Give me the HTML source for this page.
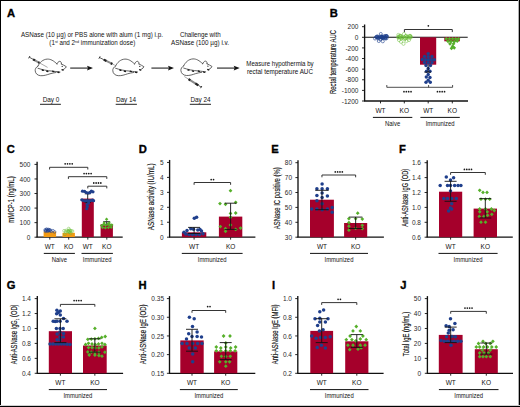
<!DOCTYPE html>
<html><head><meta charset="utf-8"><style>
html,body{margin:0;padding:0;background:#fff;}
#fig{position:relative;width:520px;height:407px;overflow:hidden;background:#fff;}
svg{position:absolute;left:0;top:0;}
text{font-family:"Liberation Sans", sans-serif;}
</style></head><body><div id="fig">
<svg width="520" height="407" viewBox="0 0 520 407">
<rect x="0" y="0" width="520" height="407" fill="#fff"/>
<text x="7.00" y="16.90" font-size="11.2" text-anchor="start" font-weight="bold" fill="#000" stroke="#000" stroke-width="0.35">A</text>
<text x="91.90" y="36.80" font-size="6.35" text-anchor="middle" font-weight="normal" fill="#111" textLength="142" lengthAdjust="spacingAndGlyphs" >ASNase (10 µg) or PBS alone with alum (1 mg) i.p.</text>
<text x="92.3" y="45.0" font-size="6.35" text-anchor="middle" fill="#111" textLength="86" lengthAdjust="spacingAndGlyphs">(1<tspan font-size="3.6" dy="-2.2">st</tspan><tspan dy="2.2"> and 2</tspan><tspan font-size="3.6" dy="-2.2">nd</tspan><tspan dy="2.2"> immunization dose)</tspan></text>
<text x="200.30" y="37.10" font-size="6.35" text-anchor="middle" font-weight="normal" fill="#111" textLength="40.8" lengthAdjust="spacingAndGlyphs" >Challenge with</text>
<text x="200.00" y="45.30" font-size="6.35" text-anchor="middle" font-weight="normal" fill="#111" textLength="58" lengthAdjust="spacingAndGlyphs" >ASNase (100 µg) i.v.</text>
<text x="246.30" y="66.40" font-size="6.35" text-anchor="start" font-weight="normal" fill="#111" textLength="67.4" lengthAdjust="spacingAndGlyphs" >Measure hypothermia by</text>
<text x="247.00" y="74.10" font-size="6.35" text-anchor="start" font-weight="normal" fill="#111" textLength="66" lengthAdjust="spacingAndGlyphs" >rectal temperature AUC</text>
<line x1="70.20" y1="68.10" x2="89.00" y2="68.10" stroke="#4a4a4a" stroke-width="1.35"/>
<path d="M87.00,65.80 L93.00,68.1 L87.00,70.40 L88.00,68.1Z" fill="#111"/>
<line x1="151.40" y1="68.10" x2="170.00" y2="68.10" stroke="#4a4a4a" stroke-width="1.35"/>
<path d="M168.00,65.80 L174.00,68.1 L168.00,70.40 L169.00,68.1Z" fill="#111"/>
<line x1="217.00" y1="68.10" x2="235.70" y2="68.10" stroke="#4a4a4a" stroke-width="1.35"/>
<path d="M233.70,65.80 L239.70,68.1 L233.70,70.40 L234.70,68.1Z" fill="#111"/>
<text x="51.00" y="101.80" font-size="6.4" text-anchor="middle" font-weight="normal" fill="#111" >Day 0</text>
<text x="126.00" y="101.80" font-size="6.4" text-anchor="middle" font-weight="normal" fill="#111" >Day 14</text>
<text x="200.50" y="101.80" font-size="6.4" text-anchor="middle" font-weight="normal" fill="#111" >Day 24</text>
<line x1="40.00" y1="104.30" x2="60.90" y2="104.30" stroke="#222" stroke-width="1.0"/>
<line x1="115.70" y1="104.30" x2="136.90" y2="104.30" stroke="#222" stroke-width="1.0"/>
<line x1="189.80" y1="104.30" x2="211.00" y2="104.30" stroke="#222" stroke-width="1.0"/>
<g transform="translate(0.00,0.00)"><g fill="none" stroke="#333" stroke-width="0.75" stroke-linecap="round" stroke-linejoin="round"><path d="M38.0,66.0 C39.5,62.5 43,59.3 47.3,59.1 C50.5,59 53.5,60.5 57,64"/><path d="M57,64 C57.5,62.5 58.5,61.4 59.8,61.3 C60.8,61.3 61.5,62.3 61.4,64"/><path d="M61.4,64 C63,64.8 65,65.8 66.3,66.7 C66,67.8 65,68.5 64.2,68.9 L62.9,69.9"/><path d="M38,68.3 C42,69.6 47,70.8 53,71.2 C56,71.5 58.5,71.8 60,72"/><path d="M38.0,66.0 C36,67.2 35,69 35.2,70.8 C35.4,73.5 37.5,75.5 40.7,75.7 C44,75.9 47,74.8 50,73.8 C52,73.2 54,72.8 56,72.5"/></g><ellipse cx="42.8" cy="70.2" rx="1.3" ry="0.75" fill="#1a1a1a" transform="rotate(15 42.8 70.2)"/><ellipse cx="47.3" cy="71.3" rx="1.3" ry="0.75" fill="#1a1a1a" transform="rotate(15 47.3 71.3)"/><ellipse cx="53.2" cy="71.4" rx="1.3" ry="0.75" fill="#1a1a1a" transform="rotate(15 53.2 71.4)"/><ellipse cx="58.4" cy="72.3" rx="1.3" ry="0.75" fill="#1a1a1a" transform="rotate(15 58.4 72.3)"/><ellipse cx="62.6" cy="69.9" rx="1.3" ry="0.75" fill="#1a1a1a" transform="rotate(15 62.6 69.9)"/><circle cx="62.2" cy="66.4" r="0.6" fill="#222"/></g>
<line x1="28.67" y1="58.34" x2="29.93" y2="56.06" stroke="#333" stroke-width="1.0"/>
<line x1="29.30" y1="57.20" x2="33.14" y2="59.34" stroke="#444" stroke-width="0.9"/>
<line x1="33.14" y1="59.34" x2="39.37" y2="62.81" stroke="#8a8a8a" stroke-width="2.0"/>
<line x1="33.14" y1="59.34" x2="35.01" y2="60.38" stroke="#222" stroke-width="2.1"/>
<line x1="38.25" y1="62.19" x2="39.37" y2="62.81" stroke="#222" stroke-width="2.1"/>
<line x1="39.37" y1="62.81" x2="47.60" y2="67.40" stroke="#555" stroke-width="0.5"/>
<g transform="translate(77.60,0.00)"><g fill="none" stroke="#333" stroke-width="0.75" stroke-linecap="round" stroke-linejoin="round"><path d="M38.0,66.0 C39.5,62.5 43,59.3 47.3,59.1 C50.5,59 53.5,60.5 57,64"/><path d="M57,64 C57.5,62.5 58.5,61.4 59.8,61.3 C60.8,61.3 61.5,62.3 61.4,64"/><path d="M61.4,64 C63,64.8 65,65.8 66.3,66.7 C66,67.8 65,68.5 64.2,68.9 L62.9,69.9"/><path d="M38,68.3 C42,69.6 47,70.8 53,71.2 C56,71.5 58.5,71.8 60,72"/><path d="M38.0,66.0 C36,67.2 35,69 35.2,70.8 C35.4,73.5 37.5,75.5 40.7,75.7 C44,75.9 47,74.8 50,73.8 C52,73.2 54,72.8 56,72.5"/></g><ellipse cx="42.8" cy="70.2" rx="1.3" ry="0.75" fill="#1a1a1a" transform="rotate(15 42.8 70.2)"/><ellipse cx="47.3" cy="71.3" rx="1.3" ry="0.75" fill="#1a1a1a" transform="rotate(15 47.3 71.3)"/><ellipse cx="53.2" cy="71.4" rx="1.3" ry="0.75" fill="#1a1a1a" transform="rotate(15 53.2 71.4)"/><ellipse cx="58.4" cy="72.3" rx="1.3" ry="0.75" fill="#1a1a1a" transform="rotate(15 58.4 72.3)"/><ellipse cx="62.6" cy="69.9" rx="1.3" ry="0.75" fill="#1a1a1a" transform="rotate(15 62.6 69.9)"/><circle cx="62.2" cy="66.4" r="0.6" fill="#222"/></g>
<line x1="98.92" y1="58.66" x2="100.08" y2="56.34" stroke="#333" stroke-width="1.0"/>
<line x1="99.50" y1="57.50" x2="103.78" y2="59.66" stroke="#444" stroke-width="0.9"/>
<line x1="103.78" y1="59.66" x2="112.35" y2="63.97" stroke="#8a8a8a" stroke-width="2.0"/>
<line x1="103.78" y1="59.66" x2="106.35" y2="60.95" stroke="#222" stroke-width="2.1"/>
<line x1="110.81" y1="63.19" x2="112.35" y2="63.97" stroke="#222" stroke-width="2.1"/>
<line x1="112.35" y1="63.97" x2="114.80" y2="65.20" stroke="#555" stroke-width="0.5"/>
<g transform="translate(145.70,-0.20)"><g fill="none" stroke="#333" stroke-width="0.75" stroke-linecap="round" stroke-linejoin="round"><path d="M38.0,66.0 C39.5,62.5 43,59.3 47.3,59.1 C50.5,59 53.5,60.5 57,64"/><path d="M57,64 C57.5,62.5 58.5,61.4 59.8,61.3 C60.8,61.3 61.5,62.3 61.4,64"/><path d="M61.4,64 C63,64.8 65,65.8 66.3,66.7 C66,67.8 65,68.5 64.2,68.9 L62.9,69.9"/><path d="M38,68.3 C42,69.6 47,70.8 53,71.2 C56,71.5 58.5,71.8 60,72"/><path d="M38.0,66.0 C36,67.2 35,69 35.2,70.8 C35.4,73.5 37.5,75.5 40.7,75.7 C44,75.9 47,74.8 50,73.8 C52,73.2 54,72.8 56,72.5"/></g><ellipse cx="42.8" cy="70.2" rx="1.3" ry="0.75" fill="#1a1a1a" transform="rotate(15 42.8 70.2)"/><ellipse cx="47.3" cy="71.3" rx="1.3" ry="0.75" fill="#1a1a1a" transform="rotate(15 47.3 71.3)"/><ellipse cx="53.2" cy="71.4" rx="1.3" ry="0.75" fill="#1a1a1a" transform="rotate(15 53.2 71.4)"/><ellipse cx="58.4" cy="72.3" rx="1.3" ry="0.75" fill="#1a1a1a" transform="rotate(15 58.4 72.3)"/><ellipse cx="62.6" cy="69.9" rx="1.3" ry="0.75" fill="#1a1a1a" transform="rotate(15 62.6 69.9)"/><circle cx="62.2" cy="66.4" r="0.6" fill="#222"/></g>
<line x1="201.89" y1="86.00" x2="200.51" y2="88.20" stroke="#333" stroke-width="1.0"/>
<line x1="201.20" y1="87.10" x2="198.33" y2="85.30" stroke="#444" stroke-width="0.9"/>
<line x1="198.33" y1="85.30" x2="188.53" y2="79.15" stroke="#8a8a8a" stroke-width="2.0"/>
<line x1="198.33" y1="85.30" x2="195.39" y2="83.45" stroke="#222" stroke-width="2.1"/>
<line x1="190.29" y1="80.26" x2="188.53" y2="79.15" stroke="#222" stroke-width="2.1"/>
<line x1="188.53" y1="79.15" x2="184.30" y2="76.50" stroke="#555" stroke-width="0.5"/>
<text x="329.70" y="16.90" font-size="11.2" text-anchor="start" font-weight="bold" fill="#000" stroke="#000" stroke-width="0.35">B</text>
<text transform="translate(336.34,62.00) rotate(-90)" font-size="8.2" text-anchor="middle" fill="#111" stroke="#111" stroke-width="0.15" textLength="64" lengthAdjust="spacingAndGlyphs">Rectal temperature AUC</text>
<line x1="364.60" y1="24.50" x2="364.60" y2="101.00" stroke="#111" stroke-width="1.35"/>
<line x1="362.00" y1="26.68" x2="364.60" y2="26.68" stroke="#111" stroke-width="0.9"/>
<text x="358.40" y="29.31" font-size="6.5" text-anchor="end" font-weight="normal" fill="#2a2a2a" >200</text>
<line x1="362.00" y1="37.30" x2="364.60" y2="37.30" stroke="#111" stroke-width="0.9"/>
<text x="358.40" y="39.93" font-size="6.5" text-anchor="end" font-weight="normal" fill="#2a2a2a" >0</text>
<line x1="362.00" y1="47.92" x2="364.60" y2="47.92" stroke="#111" stroke-width="0.9"/>
<text x="358.40" y="50.54" font-size="6.5" text-anchor="end" font-weight="normal" fill="#2a2a2a" >-200</text>
<line x1="362.00" y1="58.53" x2="364.60" y2="58.53" stroke="#111" stroke-width="0.9"/>
<text x="358.40" y="61.16" font-size="6.5" text-anchor="end" font-weight="normal" fill="#2a2a2a" >-400</text>
<line x1="362.00" y1="69.15" x2="364.60" y2="69.15" stroke="#111" stroke-width="0.9"/>
<text x="358.40" y="71.78" font-size="6.5" text-anchor="end" font-weight="normal" fill="#2a2a2a" >-600</text>
<line x1="362.00" y1="79.77" x2="364.60" y2="79.77" stroke="#111" stroke-width="0.9"/>
<text x="358.40" y="82.39" font-size="6.5" text-anchor="end" font-weight="normal" fill="#2a2a2a" >-800</text>
<line x1="362.00" y1="90.39" x2="364.60" y2="90.39" stroke="#111" stroke-width="0.9"/>
<text x="358.40" y="93.01" font-size="6.5" text-anchor="end" font-weight="normal" fill="#2a2a2a" >-1000</text>
<line x1="362.00" y1="101.00" x2="364.60" y2="101.00" stroke="#111" stroke-width="0.9"/>
<text x="358.40" y="103.63" font-size="6.5" text-anchor="end" font-weight="normal" fill="#2a2a2a" >-1200</text>
<line x1="364.00" y1="101.00" x2="468.00" y2="101.00" stroke="#111" stroke-width="1.3"/>
<line x1="380.50" y1="101.00" x2="380.50" y2="103.40" stroke="#111" stroke-width="0.9"/>
<line x1="404.30" y1="101.00" x2="404.30" y2="103.40" stroke="#111" stroke-width="0.9"/>
<line x1="428.20" y1="101.00" x2="428.20" y2="103.40" stroke="#111" stroke-width="0.9"/>
<line x1="452.30" y1="101.00" x2="452.30" y2="103.40" stroke="#111" stroke-width="0.9"/>
<line x1="364.60" y1="37.30" x2="467.70" y2="37.30" stroke="#111" stroke-width="1.1"/>
<rect x="420.00" y="37.30" width="16.20" height="27.40" fill="#a5002b"/>
<rect x="444.30" y="37.30" width="15.50" height="4.00" fill="#a5002b"/>
<circle cx="377.39" cy="36.35" r="1.55" fill="none" stroke="#1f3f8c" stroke-width="0.6"/>
<circle cx="382.15" cy="36.82" r="1.55" fill="none" stroke="#1f3f8c" stroke-width="0.6"/>
<circle cx="382.43" cy="37.10" r="1.55" fill="none" stroke="#1f3f8c" stroke-width="0.6"/>
<circle cx="385.19" cy="37.05" r="1.55" fill="none" stroke="#1f3f8c" stroke-width="0.6"/>
<circle cx="377.67" cy="37.23" r="1.55" fill="none" stroke="#1f3f8c" stroke-width="0.6"/>
<circle cx="380.41" cy="39.30" r="1.55" fill="none" stroke="#1f3f8c" stroke-width="0.6"/>
<circle cx="385.17" cy="36.01" r="1.55" fill="none" stroke="#1f3f8c" stroke-width="0.6"/>
<circle cx="376.26" cy="37.15" r="1.55" fill="none" stroke="#1f3f8c" stroke-width="0.6"/>
<circle cx="382.55" cy="37.58" r="1.55" fill="none" stroke="#1f3f8c" stroke-width="0.6"/>
<circle cx="383.94" cy="36.37" r="1.55" fill="none" stroke="#1f3f8c" stroke-width="0.6"/>
<circle cx="383.03" cy="38.09" r="1.55" fill="none" stroke="#1f3f8c" stroke-width="0.6"/>
<circle cx="381.98" cy="37.46" r="1.55" fill="none" stroke="#1f3f8c" stroke-width="0.6"/>
<circle cx="378.22" cy="38.38" r="1.55" fill="none" stroke="#1f3f8c" stroke-width="0.6"/>
<circle cx="380.45" cy="37.27" r="1.55" fill="none" stroke="#1f3f8c" stroke-width="0.6"/>
<circle cx="383.64" cy="37.80" r="1.55" fill="none" stroke="#1f3f8c" stroke-width="0.6"/>
<circle cx="386.27" cy="36.24" r="1.55" fill="none" stroke="#1f3f8c" stroke-width="0.6"/>
<circle cx="379.43" cy="37.24" r="1.55" fill="none" stroke="#1f3f8c" stroke-width="0.6"/>
<circle cx="386.46" cy="36.28" r="1.55" fill="none" stroke="#1f3f8c" stroke-width="0.6"/>
<circle cx="385.73" cy="37.31" r="1.55" fill="none" stroke="#1f3f8c" stroke-width="0.6"/>
<circle cx="377.12" cy="37.22" r="1.55" fill="none" stroke="#1f3f8c" stroke-width="0.6"/>
<circle cx="386.85" cy="36.10" r="1.55" fill="none" stroke="#1f3f8c" stroke-width="0.6"/>
<circle cx="378.21" cy="37.38" r="1.55" fill="none" stroke="#1f3f8c" stroke-width="0.6"/>
<circle cx="380.89" cy="36.51" r="1.55" fill="none" stroke="#1f3f8c" stroke-width="0.6"/>
<circle cx="381.91" cy="37.43" r="1.55" fill="none" stroke="#1f3f8c" stroke-width="0.6"/>
<circle cx="381.90" cy="37.87" r="1.55" fill="none" stroke="#1f3f8c" stroke-width="0.6"/>
<circle cx="386.38" cy="36.40" r="1.55" fill="none" stroke="#1f3f8c" stroke-width="0.6"/>
<circle cx="385.43" cy="38.04" r="1.55" fill="none" stroke="#1f3f8c" stroke-width="0.6"/>
<circle cx="376.42" cy="36.94" r="1.55" fill="none" stroke="#1f3f8c" stroke-width="0.6"/>
<circle cx="385.49" cy="38.48" r="1.55" fill="none" stroke="#1f3f8c" stroke-width="0.6"/>
<circle cx="381.70" cy="36.67" r="1.55" fill="none" stroke="#1f3f8c" stroke-width="0.6"/>
<circle cx="378.80" cy="41.00" r="1.55" fill="none" stroke="#1f3f8c" stroke-width="0.6"/>
<circle cx="382.80" cy="41.30" r="1.55" fill="none" stroke="#1f3f8c" stroke-width="0.6"/>
<circle cx="380.80" cy="34.00" r="1.55" fill="none" stroke="#1f3f8c" stroke-width="0.6"/>
<circle cx="375.00" cy="38.50" r="1.55" fill="none" stroke="#1f3f8c" stroke-width="0.6"/>
<circle cx="386.50" cy="38.30" r="1.55" fill="none" stroke="#1f3f8c" stroke-width="0.6"/>
<circle cx="407.08" cy="37.21" r="1.6" fill="none" stroke="#6cbf3a" stroke-width="0.5"/>
<circle cx="405.26" cy="38.45" r="1.6" fill="none" stroke="#6cbf3a" stroke-width="0.5"/>
<circle cx="401.50" cy="38.43" r="1.6" fill="none" stroke="#6cbf3a" stroke-width="0.5"/>
<circle cx="410.67" cy="37.49" r="1.6" fill="none" stroke="#6cbf3a" stroke-width="0.5"/>
<circle cx="398.95" cy="37.09" r="1.6" fill="none" stroke="#6cbf3a" stroke-width="0.5"/>
<circle cx="399.76" cy="35.92" r="1.6" fill="none" stroke="#6cbf3a" stroke-width="0.5"/>
<circle cx="401.62" cy="37.02" r="1.6" fill="none" stroke="#6cbf3a" stroke-width="0.5"/>
<circle cx="398.37" cy="34.99" r="1.6" fill="none" stroke="#6cbf3a" stroke-width="0.5"/>
<circle cx="405.79" cy="38.18" r="1.6" fill="none" stroke="#6cbf3a" stroke-width="0.5"/>
<circle cx="402.10" cy="37.20" r="1.6" fill="none" stroke="#6cbf3a" stroke-width="0.5"/>
<circle cx="409.25" cy="37.86" r="1.6" fill="none" stroke="#6cbf3a" stroke-width="0.5"/>
<circle cx="410.78" cy="36.67" r="1.6" fill="none" stroke="#6cbf3a" stroke-width="0.5"/>
<circle cx="401.83" cy="37.88" r="1.6" fill="none" stroke="#6cbf3a" stroke-width="0.5"/>
<circle cx="398.21" cy="37.37" r="1.6" fill="none" stroke="#6cbf3a" stroke-width="0.5"/>
<circle cx="400.37" cy="35.77" r="1.6" fill="none" stroke="#6cbf3a" stroke-width="0.5"/>
<circle cx="399.83" cy="37.48" r="1.6" fill="none" stroke="#6cbf3a" stroke-width="0.5"/>
<circle cx="398.35" cy="37.33" r="1.6" fill="none" stroke="#6cbf3a" stroke-width="0.5"/>
<circle cx="410.26" cy="36.22" r="1.6" fill="none" stroke="#6cbf3a" stroke-width="0.5"/>
<circle cx="409.46" cy="36.08" r="1.6" fill="none" stroke="#6cbf3a" stroke-width="0.5"/>
<circle cx="404.56" cy="37.49" r="1.6" fill="none" stroke="#6cbf3a" stroke-width="0.5"/>
<circle cx="406.17" cy="35.85" r="1.6" fill="none" stroke="#6cbf3a" stroke-width="0.5"/>
<circle cx="405.86" cy="36.15" r="1.6" fill="none" stroke="#6cbf3a" stroke-width="0.5"/>
<circle cx="410.03" cy="35.84" r="1.6" fill="none" stroke="#6cbf3a" stroke-width="0.5"/>
<circle cx="407.16" cy="36.76" r="1.6" fill="none" stroke="#6cbf3a" stroke-width="0.5"/>
<circle cx="400.89" cy="36.02" r="1.6" fill="none" stroke="#6cbf3a" stroke-width="0.5"/>
<circle cx="404.57" cy="39.16" r="1.6" fill="none" stroke="#6cbf3a" stroke-width="0.5"/>
<circle cx="401.00" cy="41.80" r="1.6" fill="none" stroke="#6cbf3a" stroke-width="0.5"/>
<circle cx="403.50" cy="43.80" r="1.6" fill="none" stroke="#6cbf3a" stroke-width="0.5"/>
<circle cx="399.00" cy="40.00" r="1.6" fill="none" stroke="#6cbf3a" stroke-width="0.5"/>
<circle cx="406.50" cy="41.00" r="1.6" fill="none" stroke="#6cbf3a" stroke-width="0.5"/>
<circle cx="404.00" cy="34.00" r="1.6" fill="none" stroke="#6cbf3a" stroke-width="0.5"/>
<circle cx="409.00" cy="40.00" r="1.6" fill="none" stroke="#6cbf3a" stroke-width="0.5"/>
<circle cx="428.20" cy="53.60" r="1.7" fill="#1f3f8c"/>
<circle cx="424.50" cy="56.50" r="1.7" fill="#1f3f8c"/>
<circle cx="428.20" cy="56.80" r="1.7" fill="#1f3f8c"/>
<circle cx="432.00" cy="56.50" r="1.7" fill="#1f3f8c"/>
<circle cx="422.30" cy="59.50" r="1.7" fill="#1f3f8c"/>
<circle cx="425.50" cy="59.80" r="1.7" fill="#1f3f8c"/>
<circle cx="428.50" cy="59.80" r="1.7" fill="#1f3f8c"/>
<circle cx="431.50" cy="59.80" r="1.7" fill="#1f3f8c"/>
<circle cx="434.30" cy="59.80" r="1.7" fill="#1f3f8c"/>
<circle cx="424.50" cy="62.50" r="1.7" fill="#1f3f8c"/>
<circle cx="428.20" cy="62.80" r="1.7" fill="#1f3f8c"/>
<circle cx="432.00" cy="62.50" r="1.7" fill="#1f3f8c"/>
<circle cx="426.00" cy="65.50" r="1.7" fill="#1f3f8c"/>
<circle cx="430.50" cy="65.50" r="1.7" fill="#1f3f8c"/>
<circle cx="428.20" cy="68.50" r="1.7" fill="#1f3f8c"/>
<circle cx="426.50" cy="71.20" r="1.7" fill="#1f3f8c"/>
<circle cx="430.00" cy="71.20" r="1.7" fill="#1f3f8c"/>
<circle cx="428.20" cy="74.50" r="1.7" fill="#1f3f8c"/>
<circle cx="426.30" cy="77.00" r="1.7" fill="#1f3f8c"/>
<circle cx="430.00" cy="77.50" r="1.7" fill="#1f3f8c"/>
<circle cx="428.20" cy="80.20" r="1.7" fill="#1f3f8c"/>
<circle cx="426.00" cy="82.20" r="1.7" fill="#1f3f8c"/>
<circle cx="430.30" cy="82.20" r="1.7" fill="#1f3f8c"/>
<line x1="424.30" y1="72.10" x2="430.90" y2="72.10" stroke="#111" stroke-width="0.9"/>
<line x1="428.20" y1="64.70" x2="428.20" y2="72.10" stroke="#111" stroke-width="0.8"/>
<path d="M446.30,36.90 L448.20,38.80 L446.30,40.70 L444.40,38.80Z" fill="#56b02a"/>
<path d="M449.50,36.90 L451.40,38.80 L449.50,40.70 L447.60,38.80Z" fill="#56b02a"/>
<path d="M452.60,36.90 L454.50,38.80 L452.60,40.70 L450.70,38.80Z" fill="#56b02a"/>
<path d="M455.70,36.90 L457.60,38.80 L455.70,40.70 L453.80,38.80Z" fill="#56b02a"/>
<path d="M458.50,36.90 L460.40,38.80 L458.50,40.70 L456.60,38.80Z" fill="#56b02a"/>
<path d="M448.00,39.40 L449.90,41.30 L448.00,43.20 L446.10,41.30Z" fill="#56b02a"/>
<path d="M451.00,39.60 L452.90,41.50 L451.00,43.40 L449.10,41.50Z" fill="#56b02a"/>
<path d="M454.30,39.60 L456.20,41.50 L454.30,43.40 L452.40,41.50Z" fill="#56b02a"/>
<path d="M457.20,39.10 L459.10,41.00 L457.20,42.90 L455.30,41.00Z" fill="#56b02a"/>
<path d="M450.00,41.90 L451.90,43.80 L450.00,45.70 L448.10,43.80Z" fill="#56b02a"/>
<path d="M453.50,41.90 L455.40,43.80 L453.50,45.70 L451.60,43.80Z" fill="#56b02a"/>
<path d="M452.60,44.40 L454.50,46.30 L452.60,48.20 L450.70,46.30Z" fill="#56b02a"/>
<path d="M451.50,46.40 L453.40,48.30 L451.50,50.20 L449.60,48.30Z" fill="#56b02a"/>
<path d="M454.20,45.90 L456.10,47.80 L454.20,49.70 L452.30,47.80Z" fill="#56b02a"/>
<path d="M404.40,32.10 L404.40,29.50 L452.30,29.50 L452.30,32.10" fill="none" stroke="#2a2a2a" stroke-width="0.95"/>
<ellipse cx="428.35" cy="25.80" rx="0.85" ry="0.89" fill="#1a1a1a"/>
<path d="M386.8,85.0 L386.8,87.3 L452.6,87.3 L452.6,85.0 M428.6,87.3 L428.6,85.0" fill="none" stroke="#222" stroke-width="0.8"/>
<ellipse cx="403.98" cy="91.70" rx="0.85" ry="0.89" fill="#1a1a1a"/>
<ellipse cx="406.33" cy="91.70" rx="0.85" ry="0.89" fill="#1a1a1a"/>
<ellipse cx="408.68" cy="91.70" rx="0.85" ry="0.89" fill="#1a1a1a"/>
<ellipse cx="411.03" cy="91.70" rx="0.85" ry="0.89" fill="#1a1a1a"/>
<ellipse cx="437.48" cy="91.70" rx="0.85" ry="0.89" fill="#1a1a1a"/>
<ellipse cx="439.83" cy="91.70" rx="0.85" ry="0.89" fill="#1a1a1a"/>
<ellipse cx="442.18" cy="91.70" rx="0.85" ry="0.89" fill="#1a1a1a"/>
<ellipse cx="444.53" cy="91.70" rx="0.85" ry="0.89" fill="#1a1a1a"/>
<text x="380.50" y="113.03" font-size="6.5" text-anchor="middle" font-weight="normal" fill="#111" >WT</text>
<text x="404.30" y="113.03" font-size="6.5" text-anchor="middle" font-weight="normal" fill="#111" >KO</text>
<text x="428.20" y="113.03" font-size="6.5" text-anchor="middle" font-weight="normal" fill="#111" >WT</text>
<text x="452.30" y="113.03" font-size="6.5" text-anchor="middle" font-weight="normal" fill="#111" >KO</text>
<line x1="372.90" y1="117.40" x2="412.30" y2="117.40" stroke="#111" stroke-width="1.0"/>
<text x="392.60" y="125.93" font-size="6.5" text-anchor="middle" font-weight="normal" fill="#111" textLength="15.2" lengthAdjust="spacingAndGlyphs" >Naive</text>
<line x1="420.40" y1="117.40" x2="459.80" y2="117.40" stroke="#111" stroke-width="1.0"/>
<text x="440.10" y="125.93" font-size="6.5" text-anchor="middle" font-weight="normal" fill="#111" textLength="28.9" lengthAdjust="spacingAndGlyphs" >Immunized</text>
<text x="6.80" y="153.40" font-size="11.2" text-anchor="start" font-weight="bold" fill="#000" stroke="#000" stroke-width="0.35">C</text>
<text transform="translate(14.29,199.50) rotate(-90)" font-size="8.2" text-anchor="middle" fill="#111" stroke="#111" stroke-width="0.15" textLength="46.4" lengthAdjust="spacingAndGlyphs">mMCP-1 (ng/mL)</text>
<line x1="37.10" y1="161.80" x2="37.10" y2="237.20" stroke="#111" stroke-width="1.35"/>
<line x1="34.50" y1="237.20" x2="37.10" y2="237.20" stroke="#111" stroke-width="0.9"/>
<text x="30.40" y="239.83" font-size="6.5" text-anchor="end" font-weight="normal" fill="#2a2a2a" >0</text>
<line x1="34.50" y1="222.64" x2="37.10" y2="222.64" stroke="#111" stroke-width="0.9"/>
<text x="30.40" y="225.27" font-size="6.5" text-anchor="end" font-weight="normal" fill="#2a2a2a" >100</text>
<line x1="34.50" y1="208.08" x2="37.10" y2="208.08" stroke="#111" stroke-width="0.9"/>
<text x="30.40" y="210.71" font-size="6.5" text-anchor="end" font-weight="normal" fill="#2a2a2a" >200</text>
<line x1="34.50" y1="193.52" x2="37.10" y2="193.52" stroke="#111" stroke-width="0.9"/>
<text x="30.40" y="196.15" font-size="6.5" text-anchor="end" font-weight="normal" fill="#2a2a2a" >300</text>
<line x1="34.50" y1="178.96" x2="37.10" y2="178.96" stroke="#111" stroke-width="0.9"/>
<text x="30.40" y="181.59" font-size="6.5" text-anchor="end" font-weight="normal" fill="#2a2a2a" >400</text>
<line x1="34.50" y1="164.40" x2="37.10" y2="164.40" stroke="#111" stroke-width="0.9"/>
<text x="30.40" y="167.03" font-size="6.5" text-anchor="end" font-weight="normal" fill="#2a2a2a" >500</text>
<line x1="36.50" y1="237.20" x2="122.70" y2="237.20" stroke="#111" stroke-width="1.3"/>
<line x1="49.80" y1="237.20" x2="49.80" y2="239.60" stroke="#111" stroke-width="0.9"/>
<line x1="68.70" y1="237.20" x2="68.70" y2="239.60" stroke="#111" stroke-width="0.9"/>
<line x1="87.80" y1="237.20" x2="87.80" y2="239.60" stroke="#111" stroke-width="0.9"/>
<line x1="106.80" y1="237.20" x2="106.80" y2="239.60" stroke="#111" stroke-width="0.9"/>
<rect x="43.60" y="231.50" width="12.50" height="5.50" fill="#f29a12"/>
<rect x="62.50" y="232.80" width="12.40" height="4.20" fill="#f29a12"/>
<rect x="81.80" y="198.60" width="12.00" height="38.40" fill="#a5002b"/>
<rect x="100.60" y="224.30" width="12.30" height="12.90" fill="#a5002b"/>
<circle cx="48.04" cy="230.96" r="1.4" fill="none" stroke="#1f3f8c" stroke-width="0.5"/>
<circle cx="45.52" cy="231.26" r="1.4" fill="none" stroke="#1f3f8c" stroke-width="0.5"/>
<circle cx="50.16" cy="229.99" r="1.4" fill="none" stroke="#1f3f8c" stroke-width="0.5"/>
<circle cx="49.87" cy="230.43" r="1.4" fill="none" stroke="#1f3f8c" stroke-width="0.5"/>
<circle cx="45.17" cy="229.89" r="1.4" fill="none" stroke="#1f3f8c" stroke-width="0.5"/>
<circle cx="45.71" cy="230.34" r="1.4" fill="none" stroke="#1f3f8c" stroke-width="0.5"/>
<circle cx="49.05" cy="230.41" r="1.4" fill="none" stroke="#1f3f8c" stroke-width="0.5"/>
<circle cx="47.03" cy="229.79" r="1.4" fill="none" stroke="#1f3f8c" stroke-width="0.5"/>
<circle cx="51.07" cy="231.32" r="1.4" fill="none" stroke="#1f3f8c" stroke-width="0.5"/>
<circle cx="48.77" cy="229.82" r="1.4" fill="none" stroke="#1f3f8c" stroke-width="0.5"/>
<circle cx="54.56" cy="231.90" r="1.4" fill="none" stroke="#1f3f8c" stroke-width="0.5"/>
<circle cx="47.70" cy="230.71" r="1.4" fill="none" stroke="#1f3f8c" stroke-width="0.5"/>
<circle cx="46.24" cy="230.77" r="1.4" fill="none" stroke="#1f3f8c" stroke-width="0.5"/>
<circle cx="52.96" cy="230.72" r="1.4" fill="none" stroke="#1f3f8c" stroke-width="0.5"/>
<circle cx="46.61" cy="229.08" r="1.4" fill="none" stroke="#1f3f8c" stroke-width="0.5"/>
<circle cx="48.52" cy="229.57" r="1.4" fill="none" stroke="#1f3f8c" stroke-width="0.5"/>
<circle cx="69.18" cy="231.92" r="1.4" fill="none" stroke="#6cbf3a" stroke-width="0.5"/>
<circle cx="65.76" cy="231.73" r="1.4" fill="none" stroke="#6cbf3a" stroke-width="0.5"/>
<circle cx="70.50" cy="230.82" r="1.4" fill="none" stroke="#6cbf3a" stroke-width="0.5"/>
<circle cx="69.56" cy="231.98" r="1.4" fill="none" stroke="#6cbf3a" stroke-width="0.5"/>
<circle cx="68.23" cy="231.05" r="1.4" fill="none" stroke="#6cbf3a" stroke-width="0.5"/>
<circle cx="70.69" cy="233.29" r="1.4" fill="none" stroke="#6cbf3a" stroke-width="0.5"/>
<circle cx="66.14" cy="230.51" r="1.4" fill="none" stroke="#6cbf3a" stroke-width="0.5"/>
<circle cx="72.45" cy="231.05" r="1.4" fill="none" stroke="#6cbf3a" stroke-width="0.5"/>
<circle cx="70.99" cy="230.94" r="1.4" fill="none" stroke="#6cbf3a" stroke-width="0.5"/>
<circle cx="64.88" cy="234.32" r="1.4" fill="none" stroke="#6cbf3a" stroke-width="0.5"/>
<circle cx="67.88" cy="231.63" r="1.4" fill="none" stroke="#6cbf3a" stroke-width="0.5"/>
<circle cx="68.59" cy="231.03" r="1.4" fill="none" stroke="#6cbf3a" stroke-width="0.5"/>
<circle cx="64.09" cy="230.76" r="1.4" fill="none" stroke="#6cbf3a" stroke-width="0.5"/>
<circle cx="69.43" cy="230.12" r="1.4" fill="none" stroke="#6cbf3a" stroke-width="0.5"/>
<circle cx="68.70" cy="228.60" r="1.4" fill="none" stroke="#6cbf3a" stroke-width="0.5"/>
<line x1="87.70" y1="193.80" x2="87.70" y2="202.50" stroke="#111" stroke-width="0.9"/>
<line x1="84.70" y1="193.80" x2="90.70" y2="193.80" stroke="#111" stroke-width="0.9"/>
<line x1="84.70" y1="202.50" x2="90.70" y2="202.50" stroke="#111" stroke-width="0.9"/>
<circle cx="82.50" cy="191.20" r="1.6" fill="#1f3f8c"/>
<circle cx="84.60" cy="191.40" r="1.6" fill="#1f3f8c"/>
<circle cx="86.40" cy="192.60" r="1.6" fill="#1f3f8c"/>
<circle cx="88.20" cy="193.00" r="1.6" fill="#1f3f8c"/>
<circle cx="90.00" cy="192.40" r="1.6" fill="#1f3f8c"/>
<circle cx="91.40" cy="191.20" r="1.6" fill="#1f3f8c"/>
<circle cx="93.00" cy="191.80" r="1.6" fill="#1f3f8c"/>
<circle cx="81.80" cy="199.80" r="1.6" fill="#1f3f8c"/>
<circle cx="83.40" cy="200.50" r="1.6" fill="#1f3f8c"/>
<circle cx="85.20" cy="200.90" r="1.6" fill="#1f3f8c"/>
<circle cx="87.00" cy="200.60" r="1.6" fill="#1f3f8c"/>
<circle cx="88.80" cy="200.90" r="1.6" fill="#1f3f8c"/>
<circle cx="90.60" cy="200.50" r="1.6" fill="#1f3f8c"/>
<circle cx="92.40" cy="200.20" r="1.6" fill="#1f3f8c"/>
<circle cx="93.60" cy="200.70" r="1.6" fill="#1f3f8c"/>
<circle cx="87.00" cy="204.60" r="1.6" fill="#1f3f8c"/>
<circle cx="87.40" cy="206.60" r="1.6" fill="#1f3f8c"/>
<circle cx="86.80" cy="208.70" r="1.6" fill="#1f3f8c"/>
<circle cx="88.60" cy="203.00" r="1.6" fill="#1f3f8c"/>
<line x1="106.70" y1="221.70" x2="106.70" y2="225.50" stroke="#111" stroke-width="0.9"/>
<line x1="103.20" y1="221.70" x2="110.20" y2="221.70" stroke="#111" stroke-width="0.9"/>
<path d="M106.60,217.50 L108.30,219.20 L106.60,220.90 L104.90,219.20Z" fill="#56b02a"/>
<path d="M101.60,223.90 L103.30,225.60 L101.60,227.30 L99.90,225.60Z" fill="#56b02a"/>
<path d="M103.60,222.70 L105.30,224.40 L103.60,226.10 L101.90,224.40Z" fill="#56b02a"/>
<path d="M105.60,223.50 L107.30,225.20 L105.60,226.90 L103.90,225.20Z" fill="#56b02a"/>
<path d="M107.80,222.50 L109.50,224.20 L107.80,225.90 L106.10,224.20Z" fill="#56b02a"/>
<path d="M109.80,223.50 L111.50,225.20 L109.80,226.90 L108.10,225.20Z" fill="#56b02a"/>
<path d="M111.80,223.20 L113.50,224.90 L111.80,226.60 L110.10,224.90Z" fill="#56b02a"/>
<path d="M102.60,225.90 L104.30,227.60 L102.60,229.30 L100.90,227.60Z" fill="#56b02a"/>
<path d="M105.40,226.20 L107.10,227.90 L105.40,229.60 L103.70,227.90Z" fill="#56b02a"/>
<path d="M108.40,225.90 L110.10,227.60 L108.40,229.30 L106.70,227.60Z" fill="#56b02a"/>
<path d="M111.20,225.50 L112.90,227.20 L111.20,228.90 L109.50,227.20Z" fill="#56b02a"/>
<path d="M104.20,221.20 L105.90,222.90 L104.20,224.60 L102.50,222.90Z" fill="#56b02a"/>
<path d="M109.20,221.30 L110.90,223.00 L109.20,224.70 L107.50,223.00Z" fill="#56b02a"/>
<path d="M49.60,169.50 L49.60,167.30 L87.80,167.30 L87.80,169.50" fill="none" stroke="#2a2a2a" stroke-width="0.95"/>
<ellipse cx="65.17" cy="163.80" rx="0.85" ry="0.89" fill="#1a1a1a"/>
<ellipse cx="67.52" cy="163.80" rx="0.85" ry="0.89" fill="#1a1a1a"/>
<ellipse cx="69.88" cy="163.80" rx="0.85" ry="0.89" fill="#1a1a1a"/>
<ellipse cx="72.22" cy="163.80" rx="0.85" ry="0.89" fill="#1a1a1a"/>
<path d="M68.40,178.90 L68.40,176.70 L106.80,176.70 L106.80,178.90" fill="none" stroke="#2a2a2a" stroke-width="0.95"/>
<ellipse cx="84.07" cy="173.60" rx="0.85" ry="0.89" fill="#1a1a1a"/>
<ellipse cx="86.42" cy="173.60" rx="0.85" ry="0.89" fill="#1a1a1a"/>
<ellipse cx="88.77" cy="173.60" rx="0.85" ry="0.89" fill="#1a1a1a"/>
<ellipse cx="91.12" cy="173.60" rx="0.85" ry="0.89" fill="#1a1a1a"/>
<path d="M87.80,188.40 L87.80,186.20 L106.80,186.20 L106.80,188.40" fill="none" stroke="#2a2a2a" stroke-width="0.95"/>
<ellipse cx="93.77" cy="183.00" rx="0.85" ry="0.89" fill="#1a1a1a"/>
<ellipse cx="96.12" cy="183.00" rx="0.85" ry="0.89" fill="#1a1a1a"/>
<ellipse cx="98.47" cy="183.00" rx="0.85" ry="0.89" fill="#1a1a1a"/>
<ellipse cx="100.82" cy="183.00" rx="0.85" ry="0.89" fill="#1a1a1a"/>
<text x="49.80" y="248.93" font-size="6.5" text-anchor="middle" font-weight="normal" fill="#111" >WT</text>
<text x="68.70" y="248.93" font-size="6.5" text-anchor="middle" font-weight="normal" fill="#111" >KO</text>
<text x="87.80" y="248.93" font-size="6.5" text-anchor="middle" font-weight="normal" fill="#111" >WT</text>
<text x="106.80" y="248.93" font-size="6.5" text-anchor="middle" font-weight="normal" fill="#111" >KO</text>
<line x1="43.80" y1="253.40" x2="74.90" y2="253.40" stroke="#111" stroke-width="1.0"/>
<text x="59.35" y="262.13" font-size="6.5" text-anchor="middle" font-weight="normal" fill="#111" textLength="15.2" lengthAdjust="spacingAndGlyphs" >Naive</text>
<line x1="81.50" y1="253.40" x2="112.90" y2="253.40" stroke="#111" stroke-width="1.0"/>
<text x="97.20" y="262.13" font-size="6.5" text-anchor="middle" font-weight="normal" fill="#111" textLength="28.9" lengthAdjust="spacingAndGlyphs" >Immunized</text>
<text x="138.80" y="153.40" font-size="11.2" text-anchor="start" font-weight="bold" fill="#000" stroke="#000" stroke-width="0.35">D</text>
<text transform="translate(154.44,196.80) rotate(-90)" font-size="8.2" text-anchor="middle" fill="#111" stroke="#111" stroke-width="0.15" textLength="66.8" lengthAdjust="spacingAndGlyphs">ASNase activity (IU/mL)</text>
<line x1="169.60" y1="159.95" x2="169.60" y2="237.20" stroke="#111" stroke-width="1.35"/>
<line x1="167.00" y1="237.20" x2="169.60" y2="237.20" stroke="#111" stroke-width="0.9"/>
<text x="163.60" y="239.83" font-size="6.5" text-anchor="end" font-weight="normal" fill="#2a2a2a" >0</text>
<line x1="167.00" y1="222.25" x2="169.60" y2="222.25" stroke="#111" stroke-width="0.9"/>
<text x="163.60" y="224.88" font-size="6.5" text-anchor="end" font-weight="normal" fill="#2a2a2a" >1</text>
<line x1="167.00" y1="207.30" x2="169.60" y2="207.30" stroke="#111" stroke-width="0.9"/>
<text x="163.60" y="209.93" font-size="6.5" text-anchor="end" font-weight="normal" fill="#2a2a2a" >2</text>
<line x1="167.00" y1="192.35" x2="169.60" y2="192.35" stroke="#111" stroke-width="0.9"/>
<text x="163.60" y="194.98" font-size="6.5" text-anchor="end" font-weight="normal" fill="#2a2a2a" >3</text>
<line x1="167.00" y1="177.40" x2="169.60" y2="177.40" stroke="#111" stroke-width="0.9"/>
<text x="163.60" y="180.03" font-size="6.5" text-anchor="end" font-weight="normal" fill="#2a2a2a" >4</text>
<line x1="167.00" y1="162.45" x2="169.60" y2="162.45" stroke="#111" stroke-width="0.9"/>
<text x="163.60" y="165.08" font-size="6.5" text-anchor="end" font-weight="normal" fill="#2a2a2a" >5</text>
<line x1="169.00" y1="237.20" x2="255.40" y2="237.20" stroke="#111" stroke-width="1.3"/>
<line x1="194.10" y1="237.20" x2="194.10" y2="239.60" stroke="#111" stroke-width="0.9"/>
<line x1="230.60" y1="237.20" x2="230.60" y2="239.60" stroke="#111" stroke-width="0.9"/>
<rect x="181.90" y="232.30" width="24.40" height="4.90" fill="#a5002b"/>
<rect x="218.90" y="216.60" width="23.40" height="20.60" fill="#a5002b"/>
<circle cx="194.30" cy="218.30" r="1.75" fill="#1f3f8c"/>
<circle cx="196.60" cy="217.30" r="1.75" fill="#1f3f8c"/>
<circle cx="190.80" cy="228.80" r="1.75" fill="#1f3f8c"/>
<circle cx="193.50" cy="229.20" r="1.75" fill="#1f3f8c"/>
<circle cx="197.80" cy="230.00" r="1.75" fill="#1f3f8c"/>
<circle cx="187.00" cy="230.50" r="1.75" fill="#1f3f8c"/>
<circle cx="201.50" cy="231.00" r="1.75" fill="#1f3f8c"/>
<circle cx="184.00" cy="232.20" r="1.75" fill="#1f3f8c"/>
<circle cx="185.80" cy="234.00" r="1.75" fill="#1f3f8c"/>
<circle cx="189.00" cy="234.50" r="1.75" fill="#1f3f8c"/>
<circle cx="192.50" cy="234.60" r="1.75" fill="#1f3f8c"/>
<circle cx="196.00" cy="234.40" r="1.75" fill="#1f3f8c"/>
<circle cx="199.50" cy="234.50" r="1.75" fill="#1f3f8c"/>
<circle cx="203.00" cy="233.80" r="1.75" fill="#1f3f8c"/>
<circle cx="200.00" cy="229.50" r="1.75" fill="#1f3f8c"/>
<path d="M230.50,188.80 L232.40,190.70 L230.50,192.60 L228.60,190.70Z" fill="#56b02a"/>
<path d="M220.00,201.70 L221.90,203.60 L220.00,205.50 L218.10,203.60Z" fill="#56b02a"/>
<path d="M225.50,202.40 L227.40,204.30 L225.50,206.20 L223.60,204.30Z" fill="#56b02a"/>
<path d="M235.70,200.40 L237.60,202.30 L235.70,204.20 L233.80,202.30Z" fill="#56b02a"/>
<path d="M230.50,211.50 L232.40,213.40 L230.50,215.30 L228.60,213.40Z" fill="#56b02a"/>
<path d="M235.70,211.10 L237.60,213.00 L235.70,214.90 L233.80,213.00Z" fill="#56b02a"/>
<path d="M230.50,215.40 L232.40,217.30 L230.50,219.20 L228.60,217.30Z" fill="#56b02a"/>
<path d="M220.40,224.70 L222.30,226.60 L220.40,228.50 L218.50,226.60Z" fill="#56b02a"/>
<path d="M230.50,223.10 L232.40,225.00 L230.50,226.90 L228.60,225.00Z" fill="#56b02a"/>
<path d="M240.60,226.20 L242.50,228.10 L240.60,230.00 L238.70,228.10Z" fill="#56b02a"/>
<path d="M225.50,226.80 L227.40,228.70 L225.50,230.60 L223.60,228.70Z" fill="#56b02a"/>
<path d="M235.70,227.50 L237.60,229.40 L235.70,231.30 L233.80,229.40Z" fill="#56b02a"/>
<path d="M225.50,229.40 L227.40,231.30 L225.50,233.20 L223.60,231.30Z" fill="#56b02a"/>
<line x1="194.10" y1="227.40" x2="194.10" y2="233.50" stroke="#111" stroke-width="0.9"/>
<line x1="188.10" y1="227.40" x2="200.10" y2="227.40" stroke="#111" stroke-width="0.9"/>
<line x1="188.10" y1="233.50" x2="200.10" y2="233.50" stroke="#111" stroke-width="0.9"/>
<line x1="230.60" y1="203.20" x2="230.60" y2="229.40" stroke="#111" stroke-width="0.9"/>
<line x1="224.60" y1="203.20" x2="236.60" y2="203.20" stroke="#111" stroke-width="0.9"/>
<line x1="224.60" y1="229.40" x2="236.60" y2="229.40" stroke="#111" stroke-width="0.9"/>
<path d="M194.10,184.80 L194.10,182.50 L230.60,182.50 L230.60,184.80" fill="none" stroke="#2a2a2a" stroke-width="0.95"/>
<ellipse cx="211.18" cy="179.60" rx="0.85" ry="0.89" fill="#1a1a1a"/>
<ellipse cx="213.53" cy="179.60" rx="0.85" ry="0.89" fill="#1a1a1a"/>
<text x="194.10" y="248.93" font-size="6.5" text-anchor="middle" font-weight="normal" fill="#111" >WT</text>
<text x="230.60" y="248.93" font-size="6.5" text-anchor="middle" font-weight="normal" fill="#111" >KO</text>
<line x1="181.80" y1="253.40" x2="242.60" y2="253.40" stroke="#111" stroke-width="1.0"/>
<text x="212.20" y="262.13" font-size="6.5" text-anchor="middle" font-weight="normal" fill="#111" textLength="28.9" lengthAdjust="spacingAndGlyphs" >Immunized</text>
<text x="271.30" y="153.40" font-size="11.2" text-anchor="start" font-weight="bold" fill="#000" stroke="#000" stroke-width="0.35">E</text>
<text transform="translate(279.84,198.20) rotate(-90)" font-size="8.2" text-anchor="middle" fill="#111" stroke="#111" stroke-width="0.15" textLength="62" lengthAdjust="spacingAndGlyphs">ASNase IC positive (%)</text>
<line x1="298.00" y1="160.20" x2="298.00" y2="237.20" stroke="#111" stroke-width="1.35"/>
<line x1="295.40" y1="237.20" x2="298.00" y2="237.20" stroke="#111" stroke-width="0.9"/>
<text x="292.00" y="239.83" font-size="6.5" text-anchor="end" font-weight="normal" fill="#2a2a2a" >30</text>
<line x1="295.40" y1="222.30" x2="298.00" y2="222.30" stroke="#111" stroke-width="0.9"/>
<text x="292.00" y="224.93" font-size="6.5" text-anchor="end" font-weight="normal" fill="#2a2a2a" >40</text>
<line x1="295.40" y1="207.40" x2="298.00" y2="207.40" stroke="#111" stroke-width="0.9"/>
<text x="292.00" y="210.03" font-size="6.5" text-anchor="end" font-weight="normal" fill="#2a2a2a" >50</text>
<line x1="295.40" y1="192.50" x2="298.00" y2="192.50" stroke="#111" stroke-width="0.9"/>
<text x="292.00" y="195.13" font-size="6.5" text-anchor="end" font-weight="normal" fill="#2a2a2a" >60</text>
<line x1="295.40" y1="177.60" x2="298.00" y2="177.60" stroke="#111" stroke-width="0.9"/>
<text x="292.00" y="180.23" font-size="6.5" text-anchor="end" font-weight="normal" fill="#2a2a2a" >70</text>
<line x1="295.40" y1="162.70" x2="298.00" y2="162.70" stroke="#111" stroke-width="0.9"/>
<text x="292.00" y="165.33" font-size="6.5" text-anchor="end" font-weight="normal" fill="#2a2a2a" >80</text>
<line x1="297.40" y1="237.20" x2="383.90" y2="237.20" stroke="#111" stroke-width="1.3"/>
<line x1="321.95" y1="237.20" x2="321.95" y2="239.60" stroke="#111" stroke-width="0.9"/>
<line x1="355.65" y1="237.20" x2="355.65" y2="239.60" stroke="#111" stroke-width="0.9"/>
<rect x="310.00" y="199.70" width="23.90" height="37.50" fill="#a5002b"/>
<rect x="344.10" y="223.00" width="23.10" height="14.20" fill="#a5002b"/>
<circle cx="322.10" cy="184.00" r="1.75" fill="#1f3f8c"/>
<circle cx="316.90" cy="188.80" r="1.75" fill="#1f3f8c"/>
<circle cx="322.10" cy="188.80" r="1.75" fill="#1f3f8c"/>
<circle cx="327.40" cy="188.80" r="1.75" fill="#1f3f8c"/>
<circle cx="322.10" cy="193.00" r="1.75" fill="#1f3f8c"/>
<circle cx="316.90" cy="195.50" r="1.75" fill="#1f3f8c"/>
<circle cx="327.40" cy="195.90" r="1.75" fill="#1f3f8c"/>
<circle cx="322.10" cy="197.60" r="1.75" fill="#1f3f8c"/>
<circle cx="316.90" cy="200.70" r="1.75" fill="#1f3f8c"/>
<circle cx="322.10" cy="203.80" r="1.75" fill="#1f3f8c"/>
<circle cx="311.70" cy="209.00" r="1.75" fill="#1f3f8c"/>
<circle cx="316.90" cy="209.00" r="1.75" fill="#1f3f8c"/>
<circle cx="322.10" cy="209.70" r="1.75" fill="#1f3f8c"/>
<circle cx="327.40" cy="209.00" r="1.75" fill="#1f3f8c"/>
<circle cx="332.20" cy="207.60" r="1.75" fill="#1f3f8c"/>
<circle cx="332.20" cy="212.20" r="1.75" fill="#1f3f8c"/>
<path d="M357.70,211.30 L359.60,213.20 L357.70,215.10 L355.80,213.20Z" fill="#56b02a"/>
<path d="M348.90,216.80 L350.80,218.70 L348.90,220.60 L347.00,218.70Z" fill="#56b02a"/>
<path d="M355.60,216.80 L357.50,218.70 L355.60,220.60 L353.70,218.70Z" fill="#56b02a"/>
<path d="M362.30,217.20 L364.20,219.10 L362.30,221.00 L360.40,219.10Z" fill="#56b02a"/>
<path d="M348.90,220.70 L350.80,222.60 L348.90,224.50 L347.00,222.60Z" fill="#56b02a"/>
<path d="M348.90,224.30 L350.80,226.20 L348.90,228.10 L347.00,226.20Z" fill="#56b02a"/>
<path d="M362.30,223.40 L364.20,225.30 L362.30,227.20 L360.40,225.30Z" fill="#56b02a"/>
<path d="M348.90,228.30 L350.80,230.20 L348.90,232.10 L347.00,230.20Z" fill="#56b02a"/>
<path d="M355.60,226.40 L357.50,228.30 L355.60,230.20 L353.70,228.30Z" fill="#56b02a"/>
<path d="M362.30,226.70 L364.20,228.60 L362.30,230.50 L360.40,228.60Z" fill="#56b02a"/>
<line x1="321.95" y1="190.30" x2="321.95" y2="209.70" stroke="#111" stroke-width="0.9"/>
<line x1="315.20" y1="190.30" x2="328.70" y2="190.30" stroke="#111" stroke-width="0.9"/>
<line x1="315.20" y1="209.70" x2="328.70" y2="209.70" stroke="#111" stroke-width="0.9"/>
<line x1="355.65" y1="217.10" x2="355.65" y2="228.50" stroke="#111" stroke-width="0.9"/>
<line x1="348.90" y1="217.10" x2="362.40" y2="217.10" stroke="#111" stroke-width="0.9"/>
<line x1="348.90" y1="228.50" x2="362.40" y2="228.50" stroke="#111" stroke-width="0.9"/>
<path d="M321.95,177.30 L321.95,175.00 L355.65,175.00 L355.65,177.30" fill="none" stroke="#2a2a2a" stroke-width="0.95"/>
<ellipse cx="335.27" cy="171.90" rx="0.85" ry="0.89" fill="#1a1a1a"/>
<ellipse cx="337.62" cy="171.90" rx="0.85" ry="0.89" fill="#1a1a1a"/>
<ellipse cx="339.97" cy="171.90" rx="0.85" ry="0.89" fill="#1a1a1a"/>
<ellipse cx="342.32" cy="171.90" rx="0.85" ry="0.89" fill="#1a1a1a"/>
<text x="321.95" y="248.93" font-size="6.5" text-anchor="middle" font-weight="normal" fill="#111" >WT</text>
<text x="355.65" y="248.93" font-size="6.5" text-anchor="middle" font-weight="normal" fill="#111" >KO</text>
<line x1="310.00" y1="253.40" x2="368.00" y2="253.40" stroke="#111" stroke-width="1.0"/>
<text x="339.00" y="262.13" font-size="6.5" text-anchor="middle" font-weight="normal" fill="#111" textLength="28.9" lengthAdjust="spacingAndGlyphs" >Immunized</text>
<text x="398.90" y="153.40" font-size="11.2" text-anchor="start" font-weight="bold" fill="#000" stroke="#000" stroke-width="0.35">F</text>
<text transform="translate(407.54,197.70) rotate(-90)" font-size="8.2" text-anchor="middle" fill="#111" stroke="#111" stroke-width="0.15" textLength="57.9" lengthAdjust="spacingAndGlyphs">Anti-ASNase IgG (OD)</text>
<line x1="427.20" y1="160.20" x2="427.20" y2="237.20" stroke="#111" stroke-width="1.35"/>
<line x1="424.60" y1="237.20" x2="427.20" y2="237.20" stroke="#111" stroke-width="0.9"/>
<text x="421.00" y="239.83" font-size="6.5" text-anchor="end" font-weight="normal" fill="#2a2a2a" >0.6</text>
<line x1="424.60" y1="222.30" x2="427.20" y2="222.30" stroke="#111" stroke-width="0.9"/>
<text x="421.00" y="224.93" font-size="6.5" text-anchor="end" font-weight="normal" fill="#2a2a2a" >0.8</text>
<line x1="424.60" y1="207.40" x2="427.20" y2="207.40" stroke="#111" stroke-width="0.9"/>
<text x="421.00" y="210.03" font-size="6.5" text-anchor="end" font-weight="normal" fill="#2a2a2a" >1.0</text>
<line x1="424.60" y1="192.50" x2="427.20" y2="192.50" stroke="#111" stroke-width="0.9"/>
<text x="421.00" y="195.13" font-size="6.5" text-anchor="end" font-weight="normal" fill="#2a2a2a" >1.2</text>
<line x1="424.60" y1="177.60" x2="427.20" y2="177.60" stroke="#111" stroke-width="0.9"/>
<text x="421.00" y="180.23" font-size="6.5" text-anchor="end" font-weight="normal" fill="#2a2a2a" >1.4</text>
<line x1="424.60" y1="162.70" x2="427.20" y2="162.70" stroke="#111" stroke-width="0.9"/>
<text x="421.00" y="165.33" font-size="6.5" text-anchor="end" font-weight="normal" fill="#2a2a2a" >1.6</text>
<line x1="426.60" y1="237.20" x2="512.80" y2="237.20" stroke="#111" stroke-width="1.3"/>
<line x1="450.60" y1="237.20" x2="450.60" y2="239.60" stroke="#111" stroke-width="0.9"/>
<line x1="485.30" y1="237.20" x2="485.30" y2="239.60" stroke="#111" stroke-width="0.9"/>
<rect x="439.00" y="191.70" width="23.20" height="45.50" fill="#a5002b"/>
<rect x="473.60" y="208.60" width="23.40" height="28.60" fill="#a5002b"/>
<circle cx="446.30" cy="177.10" r="1.75" fill="#1f3f8c"/>
<circle cx="453.60" cy="177.70" r="1.75" fill="#1f3f8c"/>
<circle cx="450.50" cy="180.00" r="1.75" fill="#1f3f8c"/>
<circle cx="440.20" cy="185.50" r="1.75" fill="#1f3f8c"/>
<circle cx="447.50" cy="185.50" r="1.75" fill="#1f3f8c"/>
<circle cx="450.50" cy="185.50" r="1.75" fill="#1f3f8c"/>
<circle cx="454.60" cy="185.50" r="1.75" fill="#1f3f8c"/>
<circle cx="458.00" cy="185.50" r="1.75" fill="#1f3f8c"/>
<circle cx="460.90" cy="185.50" r="1.75" fill="#1f3f8c"/>
<circle cx="450.50" cy="190.90" r="1.75" fill="#1f3f8c"/>
<circle cx="443.80" cy="198.60" r="1.75" fill="#1f3f8c"/>
<circle cx="447.50" cy="198.60" r="1.75" fill="#1f3f8c"/>
<circle cx="451.70" cy="198.60" r="1.75" fill="#1f3f8c"/>
<circle cx="456.30" cy="198.60" r="1.75" fill="#1f3f8c"/>
<circle cx="451.70" cy="203.80" r="1.75" fill="#1f3f8c"/>
<circle cx="450.50" cy="208.00" r="1.75" fill="#1f3f8c"/>
<circle cx="451.70" cy="209.10" r="1.75" fill="#1f3f8c"/>
<circle cx="448.60" cy="211.10" r="1.75" fill="#1f3f8c"/>
<path d="M479.70,188.40 L481.60,190.30 L479.70,192.20 L477.80,190.30Z" fill="#56b02a"/>
<path d="M483.00,190.50 L484.90,192.40 L483.00,194.30 L481.10,192.40Z" fill="#56b02a"/>
<path d="M487.00,190.50 L488.90,192.40 L487.00,194.30 L485.10,192.40Z" fill="#56b02a"/>
<path d="M481.00,197.30 L482.90,199.20 L481.00,201.10 L479.10,199.20Z" fill="#56b02a"/>
<path d="M485.50,197.30 L487.40,199.20 L485.50,201.10 L483.60,199.20Z" fill="#56b02a"/>
<path d="M489.70,197.30 L491.60,199.20 L489.70,201.10 L487.80,199.20Z" fill="#56b02a"/>
<path d="M479.70,207.10 L481.60,209.00 L479.70,210.90 L477.80,209.00Z" fill="#56b02a"/>
<path d="M485.50,207.10 L487.40,209.00 L485.50,210.90 L483.60,209.00Z" fill="#56b02a"/>
<path d="M491.40,207.10 L493.30,209.00 L491.40,210.90 L489.50,209.00Z" fill="#56b02a"/>
<path d="M479.70,209.90 L481.60,211.80 L479.70,213.70 L477.80,211.80Z" fill="#56b02a"/>
<path d="M487.20,209.90 L489.10,211.80 L487.20,213.70 L485.30,211.80Z" fill="#56b02a"/>
<path d="M494.30,208.60 L496.20,210.50 L494.30,212.40 L492.40,210.50Z" fill="#56b02a"/>
<path d="M479.30,214.50 L481.20,216.40 L479.30,218.30 L477.40,216.40Z" fill="#56b02a"/>
<path d="M483.90,214.50 L485.80,216.40 L483.90,218.30 L482.00,216.40Z" fill="#56b02a"/>
<path d="M487.60,213.40 L489.50,215.30 L487.60,217.20 L485.70,215.30Z" fill="#56b02a"/>
<path d="M491.80,212.40 L493.70,214.30 L491.80,216.20 L489.90,214.30Z" fill="#56b02a"/>
<path d="M481.00,220.30 L482.90,222.20 L481.00,224.10 L479.10,222.20Z" fill="#56b02a"/>
<path d="M485.50,220.30 L487.40,222.20 L485.50,224.10 L483.60,222.20Z" fill="#56b02a"/>
<line x1="450.60" y1="181.30" x2="450.60" y2="201.30" stroke="#111" stroke-width="0.9"/>
<line x1="444.60" y1="181.30" x2="456.60" y2="181.30" stroke="#111" stroke-width="0.9"/>
<line x1="444.60" y1="201.30" x2="456.60" y2="201.30" stroke="#111" stroke-width="0.9"/>
<line x1="485.30" y1="198.60" x2="485.30" y2="218.00" stroke="#111" stroke-width="0.9"/>
<line x1="479.30" y1="198.60" x2="491.30" y2="198.60" stroke="#111" stroke-width="0.9"/>
<line x1="479.30" y1="218.00" x2="491.30" y2="218.00" stroke="#111" stroke-width="0.9"/>
<path d="M450.60,174.80 L450.60,172.50 L485.30,172.50 L485.30,174.80" fill="none" stroke="#2a2a2a" stroke-width="0.95"/>
<ellipse cx="464.43" cy="169.40" rx="0.85" ry="0.89" fill="#1a1a1a"/>
<ellipse cx="466.78" cy="169.40" rx="0.85" ry="0.89" fill="#1a1a1a"/>
<ellipse cx="469.13" cy="169.40" rx="0.85" ry="0.89" fill="#1a1a1a"/>
<ellipse cx="471.48" cy="169.40" rx="0.85" ry="0.89" fill="#1a1a1a"/>
<text x="450.60" y="248.93" font-size="6.5" text-anchor="middle" font-weight="normal" fill="#111" >WT</text>
<text x="485.30" y="248.93" font-size="6.5" text-anchor="middle" font-weight="normal" fill="#111" >KO</text>
<line x1="438.50" y1="253.40" x2="497.60" y2="253.40" stroke="#111" stroke-width="1.0"/>
<text x="468.05" y="262.13" font-size="6.5" text-anchor="middle" font-weight="normal" fill="#111" textLength="28.9" lengthAdjust="spacingAndGlyphs" >Immunized</text>
<text x="6.70" y="289.20" font-size="11.2" text-anchor="start" font-weight="bold" fill="#000" stroke="#000" stroke-width="0.35">G</text>
<text transform="translate(17.14,334.30) rotate(-90)" font-size="8.2" text-anchor="middle" fill="#111" stroke="#111" stroke-width="0.15" textLength="59.7" lengthAdjust="spacingAndGlyphs">Anti-ASNase IgG<tspan font-size="4" dy="1.5">1</tspan><tspan dy="-1.5"> (OD)</tspan></text>
<line x1="37.30" y1="296.10" x2="37.30" y2="373.30" stroke="#111" stroke-width="1.35"/>
<line x1="34.70" y1="373.30" x2="37.30" y2="373.30" stroke="#111" stroke-width="0.9"/>
<text x="31.00" y="375.93" font-size="6.5" text-anchor="end" font-weight="normal" fill="#2a2a2a" >0.4</text>
<line x1="34.70" y1="358.36" x2="37.30" y2="358.36" stroke="#111" stroke-width="0.9"/>
<text x="31.00" y="360.99" font-size="6.5" text-anchor="end" font-weight="normal" fill="#2a2a2a" >0.6</text>
<line x1="34.70" y1="343.42" x2="37.30" y2="343.42" stroke="#111" stroke-width="0.9"/>
<text x="31.00" y="346.05" font-size="6.5" text-anchor="end" font-weight="normal" fill="#2a2a2a" >0.8</text>
<line x1="34.70" y1="328.48" x2="37.30" y2="328.48" stroke="#111" stroke-width="0.9"/>
<text x="31.00" y="331.11" font-size="6.5" text-anchor="end" font-weight="normal" fill="#2a2a2a" >1.0</text>
<line x1="34.70" y1="313.54" x2="37.30" y2="313.54" stroke="#111" stroke-width="0.9"/>
<text x="31.00" y="316.17" font-size="6.5" text-anchor="end" font-weight="normal" fill="#2a2a2a" >1.2</text>
<line x1="34.70" y1="298.60" x2="37.30" y2="298.60" stroke="#111" stroke-width="0.9"/>
<text x="31.00" y="301.23" font-size="6.5" text-anchor="end" font-weight="normal" fill="#2a2a2a" >1.4</text>
<line x1="36.70" y1="373.30" x2="123.10" y2="373.30" stroke="#111" stroke-width="1.3"/>
<line x1="60.40" y1="373.30" x2="60.40" y2="375.70" stroke="#111" stroke-width="0.9"/>
<line x1="94.85" y1="373.30" x2="94.85" y2="375.70" stroke="#111" stroke-width="0.9"/>
<rect x="48.80" y="331.20" width="23.20" height="42.10" fill="#a5002b"/>
<rect x="83.00" y="345.50" width="23.70" height="27.80" fill="#a5002b"/>
<circle cx="56.90" cy="310.20" r="1.75" fill="#1f3f8c"/>
<circle cx="60.30" cy="310.90" r="1.75" fill="#1f3f8c"/>
<circle cx="58.40" cy="312.40" r="1.75" fill="#1f3f8c"/>
<circle cx="56.60" cy="313.80" r="1.75" fill="#1f3f8c"/>
<circle cx="60.30" cy="315.10" r="1.75" fill="#1f3f8c"/>
<circle cx="53.20" cy="321.20" r="1.75" fill="#1f3f8c"/>
<circle cx="55.20" cy="321.40" r="1.75" fill="#1f3f8c"/>
<circle cx="57.00" cy="321.30" r="1.75" fill="#1f3f8c"/>
<circle cx="60.10" cy="321.30" r="1.75" fill="#1f3f8c"/>
<circle cx="63.50" cy="318.50" r="1.75" fill="#1f3f8c"/>
<circle cx="67.00" cy="321.20" r="1.75" fill="#1f3f8c"/>
<circle cx="56.40" cy="328.40" r="1.75" fill="#1f3f8c"/>
<circle cx="60.00" cy="328.40" r="1.75" fill="#1f3f8c"/>
<circle cx="63.20" cy="328.40" r="1.75" fill="#1f3f8c"/>
<circle cx="60.00" cy="332.00" r="1.75" fill="#1f3f8c"/>
<circle cx="57.10" cy="334.00" r="1.75" fill="#1f3f8c"/>
<circle cx="63.50" cy="333.60" r="1.75" fill="#1f3f8c"/>
<circle cx="60.00" cy="337.00" r="1.75" fill="#1f3f8c"/>
<circle cx="63.50" cy="337.00" r="1.75" fill="#1f3f8c"/>
<circle cx="57.10" cy="339.80" r="1.75" fill="#1f3f8c"/>
<circle cx="60.00" cy="339.80" r="1.75" fill="#1f3f8c"/>
<circle cx="50.00" cy="344.00" r="1.75" fill="#1f3f8c"/>
<circle cx="52.80" cy="344.00" r="1.75" fill="#1f3f8c"/>
<circle cx="55.70" cy="344.00" r="1.75" fill="#1f3f8c"/>
<circle cx="58.50" cy="344.00" r="1.75" fill="#1f3f8c"/>
<circle cx="61.40" cy="344.00" r="1.75" fill="#1f3f8c"/>
<circle cx="64.20" cy="344.00" r="1.75" fill="#1f3f8c"/>
<circle cx="67.10" cy="344.20" r="1.75" fill="#1f3f8c"/>
<circle cx="70.00" cy="344.40" r="1.75" fill="#1f3f8c"/>
<path d="M94.90,326.50 L96.80,328.40 L94.90,330.30 L93.00,328.40Z" fill="#56b02a"/>
<path d="M87.80,337.40 L89.70,339.30 L87.80,341.20 L85.90,339.30Z" fill="#56b02a"/>
<path d="M91.30,337.20 L93.20,339.10 L91.30,341.00 L89.40,339.10Z" fill="#56b02a"/>
<path d="M94.90,336.90 L96.80,338.80 L94.90,340.70 L93.00,338.80Z" fill="#56b02a"/>
<path d="M98.50,336.50 L100.40,338.40 L98.50,340.30 L96.60,338.40Z" fill="#56b02a"/>
<path d="M101.70,335.50 L103.60,337.40 L101.70,339.30 L99.80,337.40Z" fill="#56b02a"/>
<path d="M105.20,334.60 L107.10,336.50 L105.20,338.40 L103.30,336.50Z" fill="#56b02a"/>
<path d="M85.60,342.60 L87.50,344.50 L85.60,346.40 L83.70,344.50Z" fill="#56b02a"/>
<path d="M88.50,341.40 L90.40,343.30 L88.50,345.20 L86.60,343.30Z" fill="#56b02a"/>
<path d="M92.00,342.10 L93.90,344.00 L92.00,345.90 L90.10,344.00Z" fill="#56b02a"/>
<path d="M95.20,342.60 L97.10,344.50 L95.20,346.40 L93.30,344.50Z" fill="#56b02a"/>
<path d="M98.50,342.10 L100.40,344.00 L98.50,345.90 L96.60,344.00Z" fill="#56b02a"/>
<path d="M102.00,341.40 L103.90,343.30 L102.00,345.20 L100.10,343.30Z" fill="#56b02a"/>
<path d="M104.90,342.60 L106.80,344.50 L104.90,346.40 L103.00,344.50Z" fill="#56b02a"/>
<path d="M88.50,345.70 L90.40,347.60 L88.50,349.50 L86.60,347.60Z" fill="#56b02a"/>
<path d="M92.00,345.70 L93.90,347.60 L92.00,349.50 L90.10,347.60Z" fill="#56b02a"/>
<path d="M95.20,346.00 L97.10,347.90 L95.20,349.80 L93.30,347.90Z" fill="#56b02a"/>
<path d="M98.90,346.00 L100.80,347.90 L98.90,349.80 L97.00,347.90Z" fill="#56b02a"/>
<path d="M102.00,345.00 L103.90,346.90 L102.00,348.80 L100.10,346.90Z" fill="#56b02a"/>
<path d="M87.80,350.00 L89.70,351.90 L87.80,353.80 L85.90,351.90Z" fill="#56b02a"/>
<path d="M91.30,350.30 L93.20,352.20 L91.30,354.10 L89.40,352.20Z" fill="#56b02a"/>
<path d="M94.90,350.70 L96.80,352.60 L94.90,354.50 L93.00,352.60Z" fill="#56b02a"/>
<path d="M98.90,350.30 L100.80,352.20 L98.90,354.10 L97.00,352.20Z" fill="#56b02a"/>
<path d="M104.90,350.30 L106.80,352.20 L104.90,354.10 L103.00,352.20Z" fill="#56b02a"/>
<path d="M89.20,353.10 L91.10,355.00 L89.20,356.90 L87.30,355.00Z" fill="#56b02a"/>
<path d="M94.90,353.10 L96.80,355.00 L94.90,356.90 L93.00,355.00Z" fill="#56b02a"/>
<path d="M98.90,353.60 L100.80,355.50 L98.90,357.40 L97.00,355.50Z" fill="#56b02a"/>
<path d="M102.00,354.30 L103.90,356.20 L102.00,358.10 L100.10,356.20Z" fill="#56b02a"/>
<line x1="60.40" y1="318.80" x2="60.40" y2="342.60" stroke="#111" stroke-width="0.9"/>
<line x1="54.40" y1="318.80" x2="66.40" y2="318.80" stroke="#111" stroke-width="0.9"/>
<line x1="54.40" y1="342.60" x2="66.40" y2="342.60" stroke="#111" stroke-width="0.9"/>
<line x1="94.85" y1="338.80" x2="94.85" y2="352.20" stroke="#111" stroke-width="0.9"/>
<line x1="88.85" y1="338.80" x2="100.85" y2="338.80" stroke="#111" stroke-width="0.9"/>
<line x1="88.85" y1="352.20" x2="100.85" y2="352.20" stroke="#111" stroke-width="0.9"/>
<path d="M60.40,306.70 L60.40,304.40 L94.85,304.40 L94.85,306.70" fill="none" stroke="#2a2a2a" stroke-width="0.95"/>
<ellipse cx="74.10" cy="300.60" rx="0.85" ry="0.89" fill="#1a1a1a"/>
<ellipse cx="76.45" cy="300.60" rx="0.85" ry="0.89" fill="#1a1a1a"/>
<ellipse cx="78.80" cy="300.60" rx="0.85" ry="0.89" fill="#1a1a1a"/>
<ellipse cx="81.15" cy="300.60" rx="0.85" ry="0.89" fill="#1a1a1a"/>
<text x="60.40" y="385.03" font-size="6.5" text-anchor="middle" font-weight="normal" fill="#111" >WT</text>
<text x="94.85" y="385.03" font-size="6.5" text-anchor="middle" font-weight="normal" fill="#111" >KO</text>
<line x1="48.80" y1="389.60" x2="107.00" y2="389.60" stroke="#111" stroke-width="1.0"/>
<text x="77.90" y="398.33" font-size="6.5" text-anchor="middle" font-weight="normal" fill="#111" textLength="28.9" lengthAdjust="spacingAndGlyphs" >Immunized</text>
<text x="138.50" y="289.20" font-size="11.2" text-anchor="start" font-weight="bold" fill="#000" stroke="#000" stroke-width="0.35">H</text>
<text transform="translate(145.84,334.30) rotate(-90)" font-size="8.2" text-anchor="middle" fill="#111" stroke="#111" stroke-width="0.15" textLength="59.7" lengthAdjust="spacingAndGlyphs">Anti-ASNase IgE (OD)</text>
<line x1="169.50" y1="296.10" x2="169.50" y2="373.30" stroke="#111" stroke-width="1.35"/>
<line x1="166.90" y1="373.30" x2="169.50" y2="373.30" stroke="#111" stroke-width="0.9"/>
<text x="164.00" y="375.93" font-size="6.5" text-anchor="end" font-weight="normal" fill="#2a2a2a" >0.15</text>
<line x1="166.90" y1="354.62" x2="169.50" y2="354.62" stroke="#111" stroke-width="0.9"/>
<text x="164.00" y="357.25" font-size="6.5" text-anchor="end" font-weight="normal" fill="#2a2a2a" >0.20</text>
<line x1="166.90" y1="335.95" x2="169.50" y2="335.95" stroke="#111" stroke-width="0.9"/>
<text x="164.00" y="338.58" font-size="6.5" text-anchor="end" font-weight="normal" fill="#2a2a2a" >0.25</text>
<line x1="166.90" y1="317.28" x2="169.50" y2="317.28" stroke="#111" stroke-width="0.9"/>
<text x="164.00" y="319.90" font-size="6.5" text-anchor="end" font-weight="normal" fill="#2a2a2a" >0.30</text>
<line x1="166.90" y1="298.60" x2="169.50" y2="298.60" stroke="#111" stroke-width="0.9"/>
<text x="164.00" y="301.23" font-size="6.5" text-anchor="end" font-weight="normal" fill="#2a2a2a" >0.35</text>
<line x1="168.90" y1="373.30" x2="255.30" y2="373.30" stroke="#111" stroke-width="1.3"/>
<line x1="192.00" y1="373.30" x2="192.00" y2="375.70" stroke="#111" stroke-width="0.9"/>
<line x1="225.70" y1="373.30" x2="225.70" y2="375.70" stroke="#111" stroke-width="0.9"/>
<rect x="180.30" y="340.40" width="23.40" height="32.90" fill="#a5002b"/>
<rect x="214.10" y="351.40" width="23.20" height="21.90" fill="#a5002b"/>
<circle cx="189.40" cy="317.20" r="1.75" fill="#1f3f8c"/>
<circle cx="194.20" cy="318.70" r="1.75" fill="#1f3f8c"/>
<circle cx="192.50" cy="326.50" r="1.75" fill="#1f3f8c"/>
<circle cx="197.10" cy="332.00" r="1.75" fill="#1f3f8c"/>
<circle cx="188.70" cy="333.70" r="1.75" fill="#1f3f8c"/>
<circle cx="186.50" cy="339.00" r="1.75" fill="#1f3f8c"/>
<circle cx="192.00" cy="336.40" r="1.75" fill="#1f3f8c"/>
<circle cx="197.10" cy="336.40" r="1.75" fill="#1f3f8c"/>
<circle cx="201.50" cy="337.10" r="1.75" fill="#1f3f8c"/>
<circle cx="182.10" cy="343.50" r="1.75" fill="#1f3f8c"/>
<circle cx="187.00" cy="343.50" r="1.75" fill="#1f3f8c"/>
<circle cx="192.70" cy="343.50" r="1.75" fill="#1f3f8c"/>
<circle cx="197.60" cy="343.50" r="1.75" fill="#1f3f8c"/>
<circle cx="202.00" cy="343.50" r="1.75" fill="#1f3f8c"/>
<circle cx="189.20" cy="347.90" r="1.75" fill="#1f3f8c"/>
<circle cx="195.40" cy="347.90" r="1.75" fill="#1f3f8c"/>
<circle cx="192.70" cy="354.10" r="1.75" fill="#1f3f8c"/>
<circle cx="192.70" cy="361.80" r="1.75" fill="#1f3f8c"/>
<path d="M223.60,334.10 L225.50,336.00 L223.60,337.90 L221.70,336.00Z" fill="#56b02a"/>
<path d="M230.00,334.10 L231.90,336.00 L230.00,337.90 L228.10,336.00Z" fill="#56b02a"/>
<path d="M225.80,341.10 L227.70,343.00 L225.80,344.90 L223.90,343.00Z" fill="#56b02a"/>
<path d="M225.80,354.60 L227.70,356.50 L225.80,358.40 L223.90,356.50Z" fill="#56b02a"/>
<path d="M216.30,345.10 L218.20,347.00 L216.30,348.90 L214.40,347.00Z" fill="#56b02a"/>
<path d="M220.80,346.00 L222.70,347.90 L220.80,349.80 L218.90,347.90Z" fill="#56b02a"/>
<path d="M225.80,345.10 L227.70,347.00 L225.80,348.90 L223.90,347.00Z" fill="#56b02a"/>
<path d="M230.70,346.00 L232.60,347.90 L230.70,349.80 L228.80,347.90Z" fill="#56b02a"/>
<path d="M235.60,345.10 L237.50,347.00 L235.60,348.90 L233.70,347.00Z" fill="#56b02a"/>
<path d="M216.30,348.90 L218.20,350.80 L216.30,352.70 L214.40,350.80Z" fill="#56b02a"/>
<path d="M220.80,348.90 L222.70,350.80 L220.80,352.70 L218.90,350.80Z" fill="#56b02a"/>
<path d="M225.80,348.90 L227.70,350.80 L225.80,352.70 L223.90,350.80Z" fill="#56b02a"/>
<path d="M230.30,348.90 L232.20,350.80 L230.30,352.70 L228.40,350.80Z" fill="#56b02a"/>
<path d="M235.10,348.90 L237.00,350.80 L235.10,352.70 L233.20,350.80Z" fill="#56b02a"/>
<path d="M221.40,354.40 L223.30,356.30 L221.40,358.20 L219.50,356.30Z" fill="#56b02a"/>
<path d="M230.30,354.40 L232.20,356.30 L230.30,358.20 L228.40,356.30Z" fill="#56b02a"/>
<path d="M219.70,359.90 L221.60,361.80 L219.70,363.70 L217.80,361.80Z" fill="#56b02a"/>
<path d="M225.80,359.90 L227.70,361.80 L225.80,363.70 L223.90,361.80Z" fill="#56b02a"/>
<path d="M229.60,359.90 L231.50,361.80 L229.60,363.70 L227.70,361.80Z" fill="#56b02a"/>
<path d="M225.80,364.30 L227.70,366.20 L225.80,368.10 L223.90,366.20Z" fill="#56b02a"/>
<line x1="192.00" y1="329.30" x2="192.00" y2="351.20" stroke="#111" stroke-width="0.9"/>
<line x1="186.00" y1="329.30" x2="198.00" y2="329.30" stroke="#111" stroke-width="0.9"/>
<line x1="186.00" y1="351.20" x2="198.00" y2="351.20" stroke="#111" stroke-width="0.9"/>
<line x1="225.70" y1="342.60" x2="225.70" y2="359.60" stroke="#111" stroke-width="0.9"/>
<line x1="219.70" y1="342.60" x2="231.70" y2="342.60" stroke="#111" stroke-width="0.9"/>
<line x1="219.70" y1="359.60" x2="231.70" y2="359.60" stroke="#111" stroke-width="0.9"/>
<path d="M192.00,312.80 L192.00,310.50 L225.70,310.50 L225.70,312.80" fill="none" stroke="#2a2a2a" stroke-width="0.95"/>
<ellipse cx="207.67" cy="306.60" rx="0.85" ry="0.89" fill="#1a1a1a"/>
<ellipse cx="210.02" cy="306.60" rx="0.85" ry="0.89" fill="#1a1a1a"/>
<text x="192.00" y="385.03" font-size="6.5" text-anchor="middle" font-weight="normal" fill="#111" >WT</text>
<text x="225.70" y="385.03" font-size="6.5" text-anchor="middle" font-weight="normal" fill="#111" >KO</text>
<line x1="179.90" y1="389.60" x2="237.80" y2="389.60" stroke="#111" stroke-width="1.0"/>
<text x="208.85" y="398.33" font-size="6.5" text-anchor="middle" font-weight="normal" fill="#111" textLength="28.9" lengthAdjust="spacingAndGlyphs" >Immunized</text>
<text x="271.90" y="289.20" font-size="11.2" text-anchor="start" font-weight="bold" fill="#000" stroke="#000" stroke-width="0.35">I</text>
<text transform="translate(278.44,334.30) rotate(-90)" font-size="8.2" text-anchor="middle" fill="#111" stroke="#111" stroke-width="0.15" textLength="59.7" lengthAdjust="spacingAndGlyphs">Anti-ASNase IgE (MFI)</text>
<line x1="297.80" y1="296.10" x2="297.80" y2="373.30" stroke="#111" stroke-width="1.35"/>
<line x1="295.20" y1="373.30" x2="297.80" y2="373.30" stroke="#111" stroke-width="0.9"/>
<text x="292.00" y="375.93" font-size="6.5" text-anchor="end" font-weight="normal" fill="#2a2a2a" >0.2</text>
<line x1="295.20" y1="354.62" x2="297.80" y2="354.62" stroke="#111" stroke-width="0.9"/>
<text x="292.00" y="357.25" font-size="6.5" text-anchor="end" font-weight="normal" fill="#2a2a2a" >0.4</text>
<line x1="295.20" y1="335.95" x2="297.80" y2="335.95" stroke="#111" stroke-width="0.9"/>
<text x="292.00" y="338.58" font-size="6.5" text-anchor="end" font-weight="normal" fill="#2a2a2a" >0.6</text>
<line x1="295.20" y1="317.27" x2="297.80" y2="317.27" stroke="#111" stroke-width="0.9"/>
<text x="292.00" y="319.90" font-size="6.5" text-anchor="end" font-weight="normal" fill="#2a2a2a" >0.8</text>
<line x1="295.20" y1="298.60" x2="297.80" y2="298.60" stroke="#111" stroke-width="0.9"/>
<text x="292.00" y="301.23" font-size="6.5" text-anchor="end" font-weight="normal" fill="#2a2a2a" >1.0</text>
<line x1="297.20" y1="373.30" x2="383.60" y2="373.30" stroke="#111" stroke-width="1.3"/>
<line x1="321.70" y1="373.30" x2="321.70" y2="375.70" stroke="#111" stroke-width="0.9"/>
<line x1="356.80" y1="373.30" x2="356.80" y2="375.70" stroke="#111" stroke-width="0.9"/>
<rect x="310.30" y="330.90" width="22.80" height="42.40" fill="#a5002b"/>
<rect x="345.20" y="341.30" width="23.20" height="32.00" fill="#a5002b"/>
<circle cx="319.80" cy="311.70" r="1.75" fill="#1f3f8c"/>
<circle cx="323.60" cy="309.90" r="1.75" fill="#1f3f8c"/>
<circle cx="315.00" cy="318.70" r="1.75" fill="#1f3f8c"/>
<circle cx="319.80" cy="318.30" r="1.75" fill="#1f3f8c"/>
<circle cx="328.00" cy="318.70" r="1.75" fill="#1f3f8c"/>
<circle cx="319.80" cy="322.00" r="1.75" fill="#1f3f8c"/>
<circle cx="325.40" cy="322.00" r="1.75" fill="#1f3f8c"/>
<circle cx="317.60" cy="325.40" r="1.75" fill="#1f3f8c"/>
<circle cx="323.10" cy="329.80" r="1.75" fill="#1f3f8c"/>
<circle cx="319.40" cy="330.90" r="1.75" fill="#1f3f8c"/>
<circle cx="311.70" cy="336.00" r="1.75" fill="#1f3f8c"/>
<circle cx="316.10" cy="338.20" r="1.75" fill="#1f3f8c"/>
<circle cx="320.50" cy="337.50" r="1.75" fill="#1f3f8c"/>
<circle cx="325.40" cy="337.50" r="1.75" fill="#1f3f8c"/>
<circle cx="330.20" cy="336.80" r="1.75" fill="#1f3f8c"/>
<circle cx="317.20" cy="347.40" r="1.75" fill="#1f3f8c"/>
<circle cx="321.40" cy="345.20" r="1.75" fill="#1f3f8c"/>
<circle cx="325.40" cy="347.90" r="1.75" fill="#1f3f8c"/>
<path d="M356.30,324.60 L358.20,326.50 L356.30,328.40 L354.40,326.50Z" fill="#56b02a"/>
<path d="M353.00,329.00 L354.90,330.90 L353.00,332.80 L351.10,330.90Z" fill="#56b02a"/>
<path d="M360.30,329.00 L362.20,330.90 L360.30,332.80 L358.40,330.90Z" fill="#56b02a"/>
<path d="M350.10,334.10 L352.00,336.00 L350.10,337.90 L348.20,336.00Z" fill="#56b02a"/>
<path d="M362.90,334.10 L364.80,336.00 L362.90,337.90 L361.00,336.00Z" fill="#56b02a"/>
<path d="M346.30,337.80 L348.20,339.70 L346.30,341.60 L344.40,339.70Z" fill="#56b02a"/>
<path d="M351.90,337.80 L353.80,339.70 L351.90,341.60 L350.00,339.70Z" fill="#56b02a"/>
<path d="M366.20,337.80 L368.10,339.70 L366.20,341.60 L364.30,339.70Z" fill="#56b02a"/>
<path d="M347.90,343.30 L349.80,345.20 L347.90,347.10 L346.00,345.20Z" fill="#56b02a"/>
<path d="M353.00,343.30 L354.90,345.20 L353.00,347.10 L351.10,345.20Z" fill="#56b02a"/>
<path d="M360.30,343.30 L362.20,345.20 L360.30,347.10 L358.40,345.20Z" fill="#56b02a"/>
<path d="M365.10,343.30 L367.00,345.20 L365.10,347.10 L363.20,345.20Z" fill="#56b02a"/>
<path d="M349.70,347.80 L351.60,349.70 L349.70,351.60 L347.80,349.70Z" fill="#56b02a"/>
<path d="M358.00,347.30 L359.90,349.20 L358.00,351.10 L356.10,349.20Z" fill="#56b02a"/>
<path d="M361.10,346.00 L363.00,347.90 L361.10,349.80 L359.20,347.90Z" fill="#56b02a"/>
<path d="M355.80,338.90 L357.70,340.80 L355.80,342.70 L353.90,340.80Z" fill="#56b02a"/>
<path d="M360.30,337.10 L362.20,339.00 L360.30,340.90 L358.40,339.00Z" fill="#56b02a"/>
<line x1="321.70" y1="318.70" x2="321.70" y2="342.60" stroke="#111" stroke-width="0.9"/>
<line x1="315.70" y1="318.70" x2="327.70" y2="318.70" stroke="#111" stroke-width="0.9"/>
<line x1="315.70" y1="342.60" x2="327.70" y2="342.60" stroke="#111" stroke-width="0.9"/>
<line x1="356.80" y1="334.60" x2="356.80" y2="347.40" stroke="#111" stroke-width="0.9"/>
<line x1="350.80" y1="334.60" x2="362.80" y2="334.60" stroke="#111" stroke-width="0.9"/>
<line x1="350.80" y1="347.40" x2="362.80" y2="347.40" stroke="#111" stroke-width="0.9"/>
<path d="M321.70,304.90 L321.70,302.60 L356.80,302.60 L356.80,304.90" fill="none" stroke="#2a2a2a" stroke-width="0.95"/>
<ellipse cx="338.07" cy="299.30" rx="0.85" ry="0.89" fill="#1a1a1a"/>
<ellipse cx="340.43" cy="299.30" rx="0.85" ry="0.89" fill="#1a1a1a"/>
<text x="321.70" y="385.03" font-size="6.5" text-anchor="middle" font-weight="normal" fill="#111" >WT</text>
<text x="356.80" y="385.03" font-size="6.5" text-anchor="middle" font-weight="normal" fill="#111" >KO</text>
<line x1="310.00" y1="389.60" x2="368.50" y2="389.60" stroke="#111" stroke-width="1.0"/>
<text x="339.25" y="398.33" font-size="6.5" text-anchor="middle" font-weight="normal" fill="#111" textLength="28.9" lengthAdjust="spacingAndGlyphs" >Immunized</text>
<text x="400.20" y="289.20" font-size="11.2" text-anchor="start" font-weight="bold" fill="#000" stroke="#000" stroke-width="0.35">J</text>
<text transform="translate(408.84,334.00) rotate(-90)" font-size="8.2" text-anchor="middle" fill="#111" stroke="#111" stroke-width="0.15" textLength="44.6" lengthAdjust="spacingAndGlyphs">Total IgE (ng/mL)</text>
<line x1="427.40" y1="296.10" x2="427.40" y2="373.30" stroke="#111" stroke-width="1.35"/>
<line x1="424.80" y1="373.30" x2="427.40" y2="373.30" stroke="#111" stroke-width="0.9"/>
<text x="421.00" y="375.93" font-size="6.5" text-anchor="end" font-weight="normal" fill="#2a2a2a" >0</text>
<line x1="424.80" y1="358.36" x2="427.40" y2="358.36" stroke="#111" stroke-width="0.9"/>
<text x="421.00" y="360.99" font-size="6.5" text-anchor="end" font-weight="normal" fill="#2a2a2a" >10</text>
<line x1="424.80" y1="343.42" x2="427.40" y2="343.42" stroke="#111" stroke-width="0.9"/>
<text x="421.00" y="346.05" font-size="6.5" text-anchor="end" font-weight="normal" fill="#2a2a2a" >20</text>
<line x1="424.80" y1="328.48" x2="427.40" y2="328.48" stroke="#111" stroke-width="0.9"/>
<text x="421.00" y="331.11" font-size="6.5" text-anchor="end" font-weight="normal" fill="#2a2a2a" >30</text>
<line x1="424.80" y1="313.54" x2="427.40" y2="313.54" stroke="#111" stroke-width="0.9"/>
<text x="421.00" y="316.17" font-size="6.5" text-anchor="end" font-weight="normal" fill="#2a2a2a" >40</text>
<line x1="424.80" y1="298.60" x2="427.40" y2="298.60" stroke="#111" stroke-width="0.9"/>
<text x="421.00" y="301.23" font-size="6.5" text-anchor="end" font-weight="normal" fill="#2a2a2a" >50</text>
<line x1="426.80" y1="373.30" x2="513.00" y2="373.30" stroke="#111" stroke-width="1.3"/>
<line x1="450.70" y1="373.30" x2="450.70" y2="375.70" stroke="#111" stroke-width="0.9"/>
<line x1="486.30" y1="373.30" x2="486.30" y2="375.70" stroke="#111" stroke-width="0.9"/>
<rect x="438.80" y="334.90" width="23.80" height="38.40" fill="#a5002b"/>
<rect x="474.80" y="349.20" width="23.00" height="24.10" fill="#a5002b"/>
<circle cx="450.50" cy="318.70" r="1.75" fill="#1f3f8c"/>
<circle cx="446.10" cy="325.80" r="1.75" fill="#1f3f8c"/>
<circle cx="449.20" cy="326.50" r="1.75" fill="#1f3f8c"/>
<circle cx="454.90" cy="323.60" r="1.75" fill="#1f3f8c"/>
<circle cx="449.20" cy="330.20" r="1.75" fill="#1f3f8c"/>
<circle cx="453.10" cy="329.80" r="1.75" fill="#1f3f8c"/>
<circle cx="448.30" cy="333.10" r="1.75" fill="#1f3f8c"/>
<circle cx="452.00" cy="336.40" r="1.75" fill="#1f3f8c"/>
<circle cx="446.50" cy="336.80" r="1.75" fill="#1f3f8c"/>
<circle cx="455.40" cy="336.80" r="1.75" fill="#1f3f8c"/>
<circle cx="441.00" cy="340.40" r="1.75" fill="#1f3f8c"/>
<circle cx="444.30" cy="341.30" r="1.75" fill="#1f3f8c"/>
<circle cx="447.60" cy="341.30" r="1.75" fill="#1f3f8c"/>
<circle cx="451.00" cy="341.30" r="1.75" fill="#1f3f8c"/>
<circle cx="454.20" cy="341.30" r="1.75" fill="#1f3f8c"/>
<circle cx="457.60" cy="341.30" r="1.75" fill="#1f3f8c"/>
<circle cx="460.90" cy="341.30" r="1.75" fill="#1f3f8c"/>
<circle cx="451.00" cy="345.20" r="1.75" fill="#1f3f8c"/>
<path d="M483.00,339.40 L484.90,341.30 L483.00,343.20 L481.10,341.30Z" fill="#56b02a"/>
<path d="M492.90,339.40 L494.80,341.30 L492.90,343.20 L491.00,341.30Z" fill="#56b02a"/>
<path d="M478.50,341.60 L480.40,343.50 L478.50,345.40 L476.60,343.50Z" fill="#56b02a"/>
<path d="M485.80,341.60 L487.70,343.50 L485.80,345.40 L483.90,343.50Z" fill="#56b02a"/>
<path d="M490.30,341.60 L492.20,343.50 L490.30,345.40 L488.40,343.50Z" fill="#56b02a"/>
<path d="M476.30,345.10 L478.20,347.00 L476.30,348.90 L474.40,347.00Z" fill="#56b02a"/>
<path d="M479.70,345.10 L481.60,347.00 L479.70,348.90 L477.80,347.00Z" fill="#56b02a"/>
<path d="M483.60,345.10 L485.50,347.00 L483.60,348.90 L481.70,347.00Z" fill="#56b02a"/>
<path d="M487.40,345.10 L489.30,347.00 L487.40,348.90 L485.50,347.00Z" fill="#56b02a"/>
<path d="M491.80,345.10 L493.70,347.00 L491.80,348.90 L489.90,347.00Z" fill="#56b02a"/>
<path d="M496.20,345.10 L498.10,347.00 L496.20,348.90 L494.30,347.00Z" fill="#56b02a"/>
<path d="M482.30,348.20 L484.20,350.10 L482.30,352.00 L480.40,350.10Z" fill="#56b02a"/>
<path d="M490.30,348.20 L492.20,350.10 L490.30,352.00 L488.40,350.10Z" fill="#56b02a"/>
<path d="M479.70,351.10 L481.60,353.00 L479.70,354.90 L477.80,353.00Z" fill="#56b02a"/>
<path d="M484.00,351.10 L485.90,353.00 L484.00,354.90 L482.10,353.00Z" fill="#56b02a"/>
<path d="M488.50,351.10 L490.40,353.00 L488.50,354.90 L486.60,353.00Z" fill="#56b02a"/>
<path d="M479.70,354.80 L481.60,356.70 L479.70,358.60 L477.80,356.70Z" fill="#56b02a"/>
<path d="M483.00,354.80 L484.90,356.70 L483.00,358.60 L481.10,356.70Z" fill="#56b02a"/>
<path d="M486.30,354.80 L488.20,356.70 L486.30,358.60 L484.40,356.70Z" fill="#56b02a"/>
<path d="M490.30,354.80 L492.20,356.70 L490.30,358.60 L488.40,356.70Z" fill="#56b02a"/>
<line x1="450.70" y1="327.10" x2="450.70" y2="342.60" stroke="#111" stroke-width="0.9"/>
<line x1="444.70" y1="327.10" x2="456.70" y2="327.10" stroke="#111" stroke-width="0.9"/>
<line x1="444.70" y1="342.60" x2="456.70" y2="342.60" stroke="#111" stroke-width="0.9"/>
<line x1="486.30" y1="343.00" x2="486.30" y2="354.10" stroke="#111" stroke-width="0.9"/>
<line x1="480.30" y1="343.00" x2="492.30" y2="343.00" stroke="#111" stroke-width="0.9"/>
<line x1="480.30" y1="354.10" x2="492.30" y2="354.10" stroke="#111" stroke-width="0.9"/>
<path d="M450.70,313.70 L450.70,311.40 L486.30,311.40 L486.30,313.70" fill="none" stroke="#2a2a2a" stroke-width="0.95"/>
<ellipse cx="464.98" cy="308.10" rx="0.85" ry="0.89" fill="#1a1a1a"/>
<ellipse cx="467.33" cy="308.10" rx="0.85" ry="0.89" fill="#1a1a1a"/>
<ellipse cx="469.68" cy="308.10" rx="0.85" ry="0.89" fill="#1a1a1a"/>
<ellipse cx="472.03" cy="308.10" rx="0.85" ry="0.89" fill="#1a1a1a"/>
<text x="450.70" y="385.03" font-size="6.5" text-anchor="middle" font-weight="normal" fill="#111" >WT</text>
<text x="486.30" y="385.03" font-size="6.5" text-anchor="middle" font-weight="normal" fill="#111" >KO</text>
<line x1="438.90" y1="389.60" x2="498.50" y2="389.60" stroke="#111" stroke-width="1.0"/>
<text x="468.70" y="398.33" font-size="6.5" text-anchor="middle" font-weight="normal" fill="#111" textLength="28.9" lengthAdjust="spacingAndGlyphs" >Immunized</text>
<rect x="0" y="0" width="520" height="1" fill="#000"/>
<rect x="0" y="0" width="1" height="407" fill="#000"/>
<rect x="518" y="0" width="1" height="407" fill="#b0b0b0"/>
<rect x="519" y="0" width="1" height="407" fill="#000"/>
<rect x="0" y="405" width="520" height="1" fill="#d0d0d0"/>
<rect x="0" y="406" width="520" height="1" fill="#000"/>
</svg></div></body></html>
